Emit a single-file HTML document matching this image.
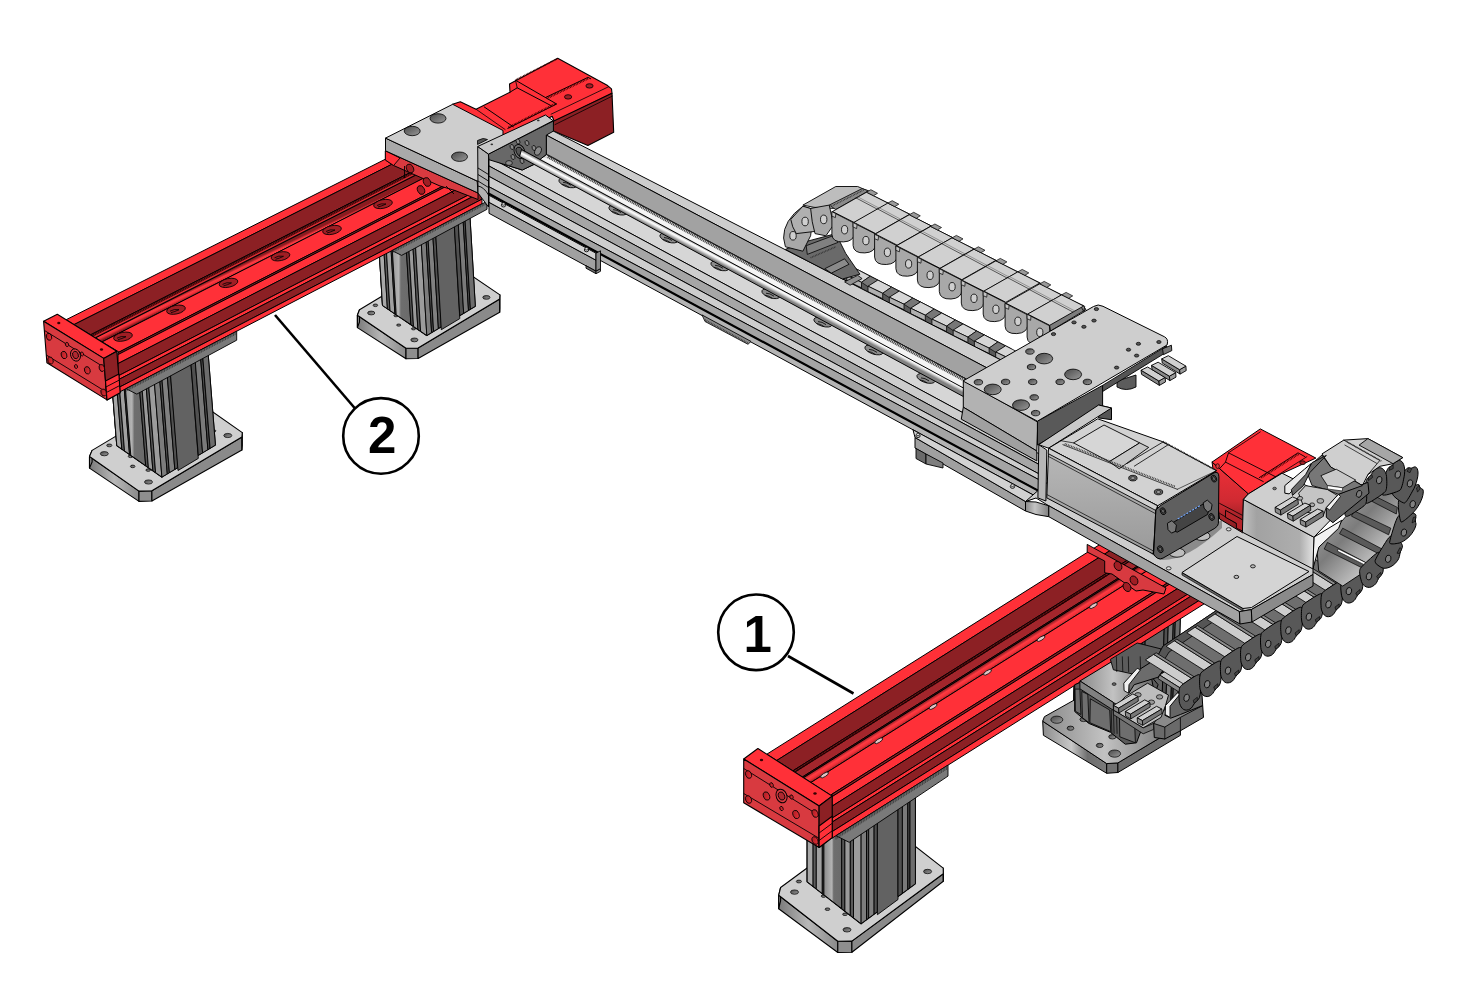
<!DOCTYPE html>
<html lang="en"><head><meta charset="utf-8"><title>Gantry assembly</title>
<style>
html,body{margin:0;padding:0;background:#fff;}
body{width:1459px;height:1007px;overflow:hidden;font-family:"Liberation Sans",sans-serif;}
svg{display:block;}
text{font-family:"Liberation Sans",sans-serif;font-weight:bold;}
</style></head><body>
<svg width="1459" height="1007" viewBox="0 0 1459 1007">
<rect width="1459" height="1007" fill="#fff"/>
<defs>
<linearGradient id="hole" x1="0" y1="0" x2="1" y2="1"><stop offset="0" stop-color="#4a4a4a"/><stop offset="1" stop-color="#9a9a9a"/></linearGradient>
<linearGradient id="rhole" x1="0" y1="0" x2="1" y2="1"><stop offset="0" stop-color="#a01c22"/><stop offset="1" stop-color="#f03038"/></linearGradient>
<linearGradient id="post" x1="0" y1="0" x2="1" y2="0"><stop offset="0" stop-color="#8a8a8a"/><stop offset="0.45" stop-color="#b4b4b4"/><stop offset="0.55" stop-color="#6e6e6e"/><stop offset="1" stop-color="#6a6a6a"/></linearGradient>
<linearGradient id="basef" x1="0" y1="0" x2="1" y2="0"><stop offset="0" stop-color="#7a7a7a"/><stop offset="0.5" stop-color="#b8b8b8"/><stop offset="1" stop-color="#8a8a8a"/></linearGradient>
</defs>
<polygon points="139,491.1 89.5,456.5 89.5,468.1 139,501.4" fill="url(#basef)" stroke="#000" stroke-width="1.1" stroke-linejoin="round" />
<polygon points="89.5,456.5 92.1,450.4 92.1,462 89.5,468.1" fill="#888" stroke="#000" stroke-width="1.1" stroke-linejoin="round" />
<polygon points="151.9,490.7 139,491.1 139,501.4 151.9,501" fill="#8e8e8e" stroke="#000" stroke-width="1.1" stroke-linejoin="round" />
<polygon points="151.9,490.7 241.9,437 241.9,449.9 151.9,501" fill="#8a8a8a" stroke="#000" stroke-width="1.1" stroke-linejoin="round" />
<polygon points="241.9,437 242.3,432.6 242.3,445.5 241.9,449.9" fill="#777" stroke="#000" stroke-width="1.1" stroke-linejoin="round" />
<polygon points="151.9,490.7 241.9,437 242.3,432.6 190.4,396.3 180.8,397.4 92.1,450.4 89.5,456.5 139,491.1" fill="#cfcfcf" stroke="#000" stroke-width="1.1" stroke-linejoin="round" />
<ellipse cx="104.3" cy="453.7" rx="4" ry="2.1" fill="url(#hole)" stroke="#000" stroke-width="0.7" />
<ellipse cx="148.5" cy="482" rx="4" ry="2.1" fill="url(#hole)" stroke="#000" stroke-width="0.7" />
<ellipse cx="227.8" cy="435.5" rx="4" ry="2.1" fill="url(#hole)" stroke="#000" stroke-width="0.7" />
<ellipse cx="130.5" cy="456.3" rx="2.3" ry="1.3" fill="url(#hole)" stroke="#000" stroke-width="0.7" />
<ellipse cx="148.2" cy="470.1" rx="2.3" ry="1.3" fill="url(#hole)" stroke="#000" stroke-width="0.7" />
<ellipse cx="213.8" cy="430.9" rx="2.1" ry="1.1" fill="url(#hole)" stroke="#000" stroke-width="0.7" />
<ellipse cx="109.3" cy="445.4" rx="2.6" ry="1.4" fill="url(#hole)" stroke="#000" stroke-width="0.7" />
<ellipse cx="132.7" cy="466.4" rx="2.3" ry="1.3" fill="url(#hole)" stroke="#000" stroke-width="0.7" />
<polygon points="106.7,318.4 151.8,350 205.3,318.1 215.4,445.1 161.9,477.1 116.8,445.5" fill="#686868" stroke="#000" stroke-width="1.1" stroke-linejoin="round" />
<polygon points="106.7,318.4 151.8,350 161.9,477.1 116.8,445.5" fill="#8e8e8e" stroke="#000" stroke-width="1.1" stroke-linejoin="round" />
<polygon points="106.7,318.4 111.6,321.9 121.8,449 116.8,445.5" fill="#a8a8a8" stroke="#000" stroke-width="0.9" stroke-linejoin="round" />
<polygon points="111.6,321.9 114.3,323.8 124.5,450.9 121.8,449" fill="#5c5c5c" stroke="#000" stroke-width="0.9" stroke-linejoin="round" />
<polygon points="114.3,323.8 119.3,327.3 129.5,454.3 124.5,450.9" fill="#a0a0a0" stroke="#000" stroke-width="0.9" stroke-linejoin="round" />
<polygon points="119.3,327.3 120.6,328.2 130.8,455.3 129.5,454.3" fill="#555" stroke="#000" stroke-width="0.9" stroke-linejoin="round" />
<polygon points="120.6,328.2 135.5,338.6 145.7,465.7 130.8,455.3" fill="url(#post)" stroke="#000" stroke-width="0.9" stroke-linejoin="round" />
<polygon points="135.5,338.6 138.2,340.5 148.4,467.6 145.7,465.7" fill="#555" stroke="#000" stroke-width="0.9" stroke-linejoin="round" />
<polygon points="138.2,340.5 142.8,343.7 152.9,470.7 148.4,467.6" fill="#9a9a9a" stroke="#000" stroke-width="0.9" stroke-linejoin="round" />
<polygon points="142.8,343.7 145.5,345.6 155.6,472.6 152.9,470.7" fill="#5a5a5a" stroke="#000" stroke-width="0.9" stroke-linejoin="round" />
<polygon points="145.5,345.6 151.8,350 161.9,477.1 155.6,472.6" fill="#9c9c9c" stroke="#000" stroke-width="0.9" stroke-linejoin="round" />
<polygon points="151.8,350 157.1,346.8 167.3,473.9 161.9,477.1" fill="#7c7c7c" stroke="#000" stroke-width="0.9" stroke-linejoin="round" />
<polygon points="157.1,346.8 159.3,345.5 169.4,472.6 167.3,473.9" fill="#505050" stroke="#000" stroke-width="0.9" stroke-linejoin="round" />
<polygon points="159.3,345.5 164.6,342.3 174.8,469.4 169.4,472.6" fill="#808080" stroke="#000" stroke-width="0.9" stroke-linejoin="round" />
<polygon points="164.6,342.3 167.8,340.4 178,467.5 174.8,469.4" fill="#505050" stroke="#000" stroke-width="0.9" stroke-linejoin="round" />
<polygon points="167.8,340.4 188.1,328.3 198.3,458.4 178,470.5" fill="#626262" stroke="#000" stroke-width="0.9" stroke-linejoin="round" />
<polygon points="188.1,328.3 192.4,325.8 202.6,452.8 198.3,455.4" fill="#505050" stroke="#000" stroke-width="0.9" stroke-linejoin="round" />
<polygon points="192.4,325.8 197.8,322.6 207.9,449.6 202.6,452.8" fill="#7a7a7a" stroke="#000" stroke-width="0.9" stroke-linejoin="round" />
<polygon points="197.8,322.6 199.9,321.3 210.1,448.3 207.9,449.6" fill="#4c4c4c" stroke="#000" stroke-width="0.9" stroke-linejoin="round" />
<polygon points="199.9,321.3 205.3,318.1 215.4,445.1 210.1,448.3" fill="#6c6c6c" stroke="#000" stroke-width="0.9" stroke-linejoin="round" />
<polygon points="406,348.3 357.4,315.3 357.4,327.6 406,358.7" fill="url(#basef)" stroke="#000" stroke-width="1.1" stroke-linejoin="round" />
<polygon points="357.4,315.3 359.5,309.7 359.5,322 357.4,327.6" fill="#888" stroke="#000" stroke-width="1.1" stroke-linejoin="round" />
<polygon points="418.1,348 406,348.3 406,358.7 418.1,358.5" fill="#8e8e8e" stroke="#000" stroke-width="1.1" stroke-linejoin="round" />
<polygon points="418.1,348 499.7,299 499.7,312.2 418.1,358.5" fill="#8a8a8a" stroke="#000" stroke-width="1.1" stroke-linejoin="round" />
<polygon points="499.7,299 499.9,294.9 499.9,308.1 499.7,312.2" fill="#777" stroke="#000" stroke-width="1.1" stroke-linejoin="round" />
<polygon points="418.1,348 499.7,299 499.9,294.9 448.9,260.3 440,261.3 359.5,309.7 357.4,315.3 406,348.3" fill="#cfcfcf" stroke="#000" stroke-width="1.1" stroke-linejoin="round" />
<ellipse cx="371.2" cy="313" rx="3.6" ry="1.9" fill="url(#hole)" stroke="#000" stroke-width="0.7" />
<ellipse cx="414.4" cy="339.9" rx="3.6" ry="1.9" fill="url(#hole)" stroke="#000" stroke-width="0.7" />
<ellipse cx="486.4" cy="297.4" rx="3.6" ry="1.9" fill="url(#hole)" stroke="#000" stroke-width="0.7" />
<ellipse cx="396" cy="315.7" rx="2.1" ry="1.1" fill="url(#hole)" stroke="#000" stroke-width="0.7" />
<ellipse cx="413.5" cy="328.8" rx="2.1" ry="1.1" fill="url(#hole)" stroke="#000" stroke-width="0.7" />
<ellipse cx="472.9" cy="293" rx="1.9" ry="1" fill="url(#hole)" stroke="#000" stroke-width="0.7" />
<ellipse cx="375.4" cy="305.3" rx="2.3" ry="1.3" fill="url(#hole)" stroke="#000" stroke-width="0.7" />
<ellipse cx="398.7" cy="325.1" rx="2.1" ry="1.1" fill="url(#hole)" stroke="#000" stroke-width="0.7" />
<polygon points="375,180 419.3,210 467.8,180.8 475.3,306.3 426.8,335.5 382.5,305.4" fill="#686868" stroke="#000" stroke-width="1.1" stroke-linejoin="round" />
<polygon points="375,180 419.3,210 426.8,335.5 382.5,305.4" fill="#8e8e8e" stroke="#000" stroke-width="1.1" stroke-linejoin="round" />
<polygon points="375,180 379.9,183.3 387.4,308.7 382.5,305.4" fill="#a8a8a8" stroke="#000" stroke-width="0.9" stroke-linejoin="round" />
<polygon points="379.9,183.3 382.5,185.1 390,310.5 387.4,308.7" fill="#5c5c5c" stroke="#000" stroke-width="0.9" stroke-linejoin="round" />
<polygon points="382.5,185.1 387.4,188.4 394.9,313.8 390,310.5" fill="#a0a0a0" stroke="#000" stroke-width="0.9" stroke-linejoin="round" />
<polygon points="387.4,188.4 388.7,189.3 396.2,314.7 394.9,313.8" fill="#555" stroke="#000" stroke-width="0.9" stroke-linejoin="round" />
<polygon points="388.7,189.3 403.3,199.2 410.9,324.6 396.2,314.7" fill="url(#post)" stroke="#000" stroke-width="0.9" stroke-linejoin="round" />
<polygon points="403.3,199.2 406,201 413.5,326.4 410.9,324.6" fill="#555" stroke="#000" stroke-width="0.9" stroke-linejoin="round" />
<polygon points="406,201 410.4,204 417.9,329.4 413.5,326.4" fill="#9a9a9a" stroke="#000" stroke-width="0.9" stroke-linejoin="round" />
<polygon points="410.4,204 413.1,205.8 420.6,331.2 417.9,329.4" fill="#5a5a5a" stroke="#000" stroke-width="0.9" stroke-linejoin="round" />
<polygon points="413.1,205.8 419.3,210 426.8,335.5 420.6,331.2" fill="#9c9c9c" stroke="#000" stroke-width="0.9" stroke-linejoin="round" />
<polygon points="419.3,210 424.1,207.1 431.6,332.5 426.8,335.5" fill="#7c7c7c" stroke="#000" stroke-width="0.9" stroke-linejoin="round" />
<polygon points="424.1,207.1 426.1,205.9 433.6,331.4 431.6,332.5" fill="#505050" stroke="#000" stroke-width="0.9" stroke-linejoin="round" />
<polygon points="426.1,205.9 430.9,203 438.4,328.5 433.6,331.4" fill="#808080" stroke="#000" stroke-width="0.9" stroke-linejoin="round" />
<polygon points="430.9,203 433.8,201.3 441.3,326.7 438.4,328.5" fill="#505050" stroke="#000" stroke-width="0.9" stroke-linejoin="round" />
<polygon points="433.8,201.3 452.2,190.2 459.8,318.6 441.3,329.7" fill="#626262" stroke="#000" stroke-width="0.9" stroke-linejoin="round" />
<polygon points="452.2,190.2 456.1,187.8 463.7,313.3 459.8,315.6" fill="#505050" stroke="#000" stroke-width="0.9" stroke-linejoin="round" />
<polygon points="456.1,187.8 461,184.9 468.5,310.4 463.7,313.3" fill="#7a7a7a" stroke="#000" stroke-width="0.9" stroke-linejoin="round" />
<polygon points="461,184.9 462.9,183.8 470.4,309.2 468.5,310.4" fill="#4c4c4c" stroke="#000" stroke-width="0.9" stroke-linejoin="round" />
<polygon points="462.9,183.8 467.8,180.8 475.3,306.3 470.4,309.2" fill="#6c6c6c" stroke="#000" stroke-width="0.9" stroke-linejoin="round" />
<linearGradient id="rod2" gradientUnits="userSpaceOnUse" x1="200" y1="285.2" x2="203" y2="291.4"><stop offset="0" stop-color="#8a1c20"/><stop offset="0.35" stop-color="#ff3a42"/><stop offset="0.6" stop-color="#f03038"/><stop offset="1" stop-color="#7e181c"/></linearGradient>
<polygon points="66.2,319.7 482,110.6 482,118.8 74,324.6" fill="#ff3038" stroke="#000" stroke-width="1" stroke-linejoin="round" />
<polygon points="74,324.6 482,118.8 482,136.2 90.6,334.8" fill="#8c2024" stroke="#000" stroke-width="1" stroke-linejoin="round" />
<polygon points="90.6,334.8 482,136.2 482,141.5 95.6,337.9" fill="#7a1a1e" stroke="#000" stroke-width="1" stroke-linejoin="round" />
<polygon points="95.6,337.9 482,141.5 482,148.4 102.1,341.9" fill="url(#rod2)" stroke="#000" stroke-width="1" stroke-linejoin="round" />
<polygon points="102.1,341.9 482,148.4 482,166.1 119,352.1" fill="#ff3038" stroke="#000" stroke-width="1" stroke-linejoin="round" />
<polygon points="118,352.7 482,166.1 482,168 118,354.6" fill="#8c2024" stroke="#000" stroke-width="1" stroke-linejoin="round" />
<polygon points="118,354.6 482,168 482,176.4 118,363.6" fill="#ff3038" stroke="#000" stroke-width="1" stroke-linejoin="round" />
<polygon points="118,363.6 482,176.4 482,188 118,376" fill="#8c2024" stroke="#000" stroke-width="1" stroke-linejoin="round" />
<polygon points="118,376 482,188 482,191.8 118,379.9" fill="#ff3038" stroke="#000" stroke-width="1" stroke-linejoin="round" />
<polygon points="118,379.9 482,191.8 482,199.2 118,387.9" fill="#8c2024" stroke="#000" stroke-width="1" stroke-linejoin="round" />
<polygon points="118,387.9 482,199.2 482,203.9 118,392.8" fill="#ff3038" stroke="#000" stroke-width="1" stroke-linejoin="round" />
<line x1="90.1" y1="336.5" x2="420" y2="169.1" stroke="#300" stroke-width="2.4" stroke-dasharray="0.9 0.9"/>
<line x1="92.1" y1="337.9" x2="420" y2="171.4" stroke="#ff3038" stroke-width="0.9" />
<ellipse cx="123" cy="336.7" rx="9.5" ry="4.3" fill="#a01e24" stroke="#000" stroke-width="0.8" transform="rotate(-12 123 336.7)" />
<path d="M117 338.2 q4 -2.5 9 -1.5 M118 339.7 q4 -1 8 -3" fill="none" stroke="#000" stroke-width="0.8" stroke-linejoin="round" />
<ellipse cx="176" cy="309.7" rx="9.5" ry="4.3" fill="#a01e24" stroke="#000" stroke-width="0.8" transform="rotate(-12 176 309.7)" />
<path d="M170 311.2 q4 -2.5 9 -1.5 M171 312.7 q4 -1 8 -3" fill="none" stroke="#000" stroke-width="0.8" stroke-linejoin="round" />
<ellipse cx="228.5" cy="282.9" rx="9.5" ry="4.3" fill="#a01e24" stroke="#000" stroke-width="0.8" transform="rotate(-12 228.5 282.9)" />
<path d="M222.5 284.4 q4 -2.5 9 -1.5 M223.5 285.9 q4 -1 8 -3" fill="none" stroke="#000" stroke-width="0.8" stroke-linejoin="round" />
<ellipse cx="280.5" cy="256.3" rx="9.5" ry="4.3" fill="#a01e24" stroke="#000" stroke-width="0.8" transform="rotate(-12 280.5 256.3)" />
<path d="M274.5 257.8 q4 -2.5 9 -1.5 M275.5 259.3 q4 -1 8 -3" fill="none" stroke="#000" stroke-width="0.8" stroke-linejoin="round" />
<ellipse cx="332" cy="230" rx="9.5" ry="4.3" fill="#a01e24" stroke="#000" stroke-width="0.8" transform="rotate(-12 332 230)" />
<path d="M326 231.5 q4 -2.5 9 -1.5 M327 233 q4 -1 8 -3" fill="none" stroke="#000" stroke-width="0.8" stroke-linejoin="round" />
<ellipse cx="383" cy="204" rx="9.5" ry="4.3" fill="#a01e24" stroke="#000" stroke-width="0.8" transform="rotate(-12 383 204)" />
<path d="M377 205.5 q4 -2.5 9 -1.5 M378 207 q4 -1 8 -3" fill="none" stroke="#000" stroke-width="0.8" stroke-linejoin="round" />
<polygon points="43.6,321.3 57.3,314.2 116.8,351.3 103.7,358.4" fill="#ff3038" stroke="#000" stroke-width="1.1" stroke-linejoin="round" />
<polygon points="43.6,321.3 103.7,358.4 107,399.9 46.9,362.8" fill="#d83a40" stroke="#000" stroke-width="1.1" stroke-linejoin="round" />
<polygon points="103.7,358.4 116.8,351.3 120.1,392.8 107,399.9" fill="#8c2024" stroke="#000" stroke-width="1.1" stroke-linejoin="round" />
<polygon points="105.5,381 118.9,374 120.1,392.8 107,399.9" fill="#ff3038" stroke="#000" stroke-width="1.1" stroke-linejoin="round" />
<line x1="105.9" y1="387" x2="119.4" y2="380" stroke="#000" stroke-width="0.9" />
<line x1="106.4" y1="392.5" x2="119.8" y2="385.5" stroke="#000" stroke-width="0.9" />
<line x1="44.5" y1="330.5" x2="104.5" y2="367.5" stroke="#000" stroke-width="0.9" />
<line x1="46.3" y1="355" x2="106.3" y2="392" stroke="#000" stroke-width="0.9" />
<ellipse cx="49" cy="336.8" rx="2.6" ry="3.6" fill="url(#rhole)" stroke="#000" stroke-width="0.8" transform="rotate(-20 49 336.8)" />
<ellipse cx="50.5" cy="360.5" rx="2.6" ry="3.6" fill="url(#rhole)" stroke="#000" stroke-width="0.8" transform="rotate(-20 50.5 360.5)" />
<ellipse cx="101.8" cy="368" rx="2.6" ry="3.6" fill="url(#rhole)" stroke="#000" stroke-width="0.8" transform="rotate(-20 101.8 368)" />
<ellipse cx="103.6" cy="392.5" rx="2.6" ry="3.6" fill="url(#rhole)" stroke="#000" stroke-width="0.8" transform="rotate(-20 103.6 392.5)" />
<ellipse cx="64" cy="355" rx="2.8" ry="3.8" fill="url(#rhole)" stroke="#000" stroke-width="0.8" transform="rotate(-20 64 355)" />
<ellipse cx="87.3" cy="370.3" rx="2.8" ry="3.8" fill="url(#rhole)" stroke="#000" stroke-width="0.8" transform="rotate(-20 87.3 370.3)" />
<ellipse cx="67" cy="344.5" rx="1.6" ry="2.2" fill="url(#rhole)" stroke="#000" stroke-width="0.8" transform="rotate(-20 67 344.5)" />
<ellipse cx="82" cy="354" rx="1.5" ry="2" fill="url(#rhole)" stroke="#000" stroke-width="0.8" transform="rotate(-20 82 354)" />
<ellipse cx="76" cy="366.5" rx="1.5" ry="2" fill="url(#rhole)" stroke="#000" stroke-width="0.8" transform="rotate(-20 76 366.5)" />
<ellipse cx="75.5" cy="355" rx="4.8" ry="6.3" fill="#d83a40" stroke="#000" stroke-width="0.9" transform="rotate(-20 75.5 355)" />
<ellipse cx="75.5" cy="355" rx="2.8" ry="3.8" fill="#b02830" stroke="#000" stroke-width="0.8" transform="rotate(-20 75.5 355)" />
<ellipse cx="58.8" cy="323" rx="1.6" ry="1.2" fill="#300" />
<ellipse cx="101.5" cy="349.5" rx="1.6" ry="1.2" fill="#300" />
<polygon points="126,388.7 236.7,331.2 236.7,340.2 136.8,394.1" fill="#7a7a7a" stroke="#000" stroke-width="0.9" stroke-linejoin="round" />
<path d="M126 388.7v3.1M127.6 387.8v3.1M129.2 387v3.1M130.8 386.2v3.1M132.4 385.3v3.1M134 384.5v3.1M135.6 383.7v3.1M137.2 382.8v3.1M138.8 382v3.1M140.4 381.2v3.1M142 380.3v3.1M143.6 379.5v3.1M145.3 378.7v3.1M146.9 377.8v3.1M148.5 377v3.1M150.1 376.2v3.1M151.7 375.3v3.1M153.3 374.5v3.1M154.9 373.7v3.1M156.5 372.8v3.1M158.1 372v3.1M159.7 371.2v3.1M161.3 370.3v3.1M162.9 369.5v3.1M164.5 368.7v3.1M166.1 367.8v3.1M167.7 367v3.1M169.3 366.2v3.1M170.9 365.3v3.1M172.5 364.5v3.1M174.1 363.7v3.1M175.7 362.8v3.1M177.3 362v3.1M178.9 361.2v3.1M180.5 360.4v3.1M182.2 359.5v3.1M183.8 358.7v3.1M185.4 357.9v3.1M187 357v3.1M188.6 356.2v3.1M190.2 355.4v3.1M191.8 354.5v3.1M193.4 353.7v3.1M195 352.9v3.1M196.6 352v3.1M198.2 351.2v3.1M199.8 350.4v3.1M201.4 349.5v3.1M203 348.7v3.1M204.6 347.9v3.1M206.2 347v3.1M207.8 346.2v3.1M209.4 345.4v3.1M211 344.5v3.1M212.6 343.7v3.1M214.2 342.9v3.1M215.8 342v3.1M217.4 341.2v3.1M219.1 340.4v3.1M220.7 339.5v3.1M222.3 338.7v3.1M223.9 337.9v3.1M225.5 337v3.1M227.1 336.2v3.1M228.7 335.4v3.1M230.3 334.5v3.1M231.9 333.7v3.1M233.5 332.9v3.1M235.1 332v3.1" fill="none" stroke="#222" stroke-width="0.6" stroke-linejoin="round" />
<polygon points="392,250.6 487,201.3 487,209.3 401.6,255.4" fill="#7a7a7a" stroke="#000" stroke-width="0.9" stroke-linejoin="round" />
<path d="M392 250.6v2.8M393.6 249.8v2.8M395.2 248.9v2.8M396.8 248.1v2.8M398.4 247.3v2.8M400.1 246.4v2.8M401.7 245.6v2.8M403.3 244.8v2.8M404.9 243.9v2.8M406.5 243.1v2.8M408.1 242.3v2.8M409.7 241.4v2.8M411.3 240.6v2.8M412.9 239.7v2.8M414.5 238.9v2.8M416.2 238.1v2.8M417.8 237.2v2.8M419.4 236.4v2.8M421 235.6v2.8M422.6 234.7v2.8M424.2 233.9v2.8M425.8 233.1v2.8M427.4 232.2v2.8M429 231.4v2.8M430.6 230.6v2.8M432.3 229.7v2.8M433.9 228.9v2.8M435.5 228v2.8M437.1 227.2v2.8M438.7 226.4v2.8M440.3 225.5v2.8M441.9 224.7v2.8M443.5 223.9v2.8M445.1 223v2.8M446.7 222.2v2.8M448.4 221.4v2.8M450 220.5v2.8M451.6 219.7v2.8M453.2 218.9v2.8M454.8 218v2.8M456.4 217.2v2.8M458 216.3v2.8M459.6 215.5v2.8M461.2 214.7v2.8M462.8 213.8v2.8M464.5 213v2.8M466.1 212.2v2.8M467.7 211.3v2.8M469.3 210.5v2.8M470.9 209.7v2.8M472.5 208.8v2.8M474.1 208v2.8M475.7 207.2v2.8M477.3 206.3v2.8M478.9 205.5v2.8M480.6 204.6v2.8M482.2 203.8v2.8M483.8 203v2.8M485.4 202.1v2.8" fill="none" stroke="#222" stroke-width="0.6" stroke-linejoin="round" />
<polygon points="452.5,104.3 460.3,101.8 476,109.2 510,92.2 509.5,84 557.7,58.2 607.6,85.6 611.5,88.9 612,93.3 554.4,121.8 552.2,116.3 491.9,146.5 452.5,126.8" fill="#ff3038" stroke="#000" stroke-width="1.1" stroke-linejoin="round" />
<polygon points="553.3,121.3 612,93.3 613.7,132.2 587.9,145.4 551.1,130.1" fill="#8c2024" stroke="#000" stroke-width="1.1" stroke-linejoin="round" />
<polyline points="551.1,114.2 608.7,86.7" fill="none" stroke="#000" stroke-width="0.8" stroke-linejoin="round" stroke-linecap="round" />
<polyline points="555,124.6 612.3,96.1" fill="none" stroke="#000" stroke-width="0.8" stroke-linejoin="round" stroke-linecap="round" />
<polyline points="515.5,80.2 556.6,104" fill="none" stroke="#000" stroke-width="1" stroke-linejoin="round" stroke-linecap="round" />
<polyline points="510,92.2 517.2,87.8 550.6,105.4" fill="none" stroke="#000" stroke-width="1" stroke-linejoin="round" stroke-linecap="round" />
<polyline points="517.2,87.8 515.5,80.2" fill="none" stroke="#000" stroke-width="0.8" stroke-linejoin="round" stroke-linecap="round" />
<polyline points="545.7,97.4 587.9,77.4 590.6,78.7" fill="none" stroke="#000" stroke-width="1" stroke-linejoin="round" stroke-linecap="round" />
<line x1="546.8" y1="98.3" x2="588.4" y2="78.3" stroke="#400" stroke-width="2.2" stroke-dasharray="0.8 0.8"/>
<polyline points="507.8,128.4 556.1,104.3" fill="none" stroke="#000" stroke-width="1" stroke-linejoin="round" stroke-linecap="round" />
<line x1="508.4" y1="127.6" x2="555.5" y2="103.7" stroke="#400" stroke-width="2.2" stroke-dasharray="0.8 0.8"/>
<polyline points="484.3,107 513.3,126.8" fill="none" stroke="#000" stroke-width="1" stroke-linejoin="round" stroke-linecap="round" />
<polyline points="476,109.2 505.1,129.5" fill="none" stroke="#000" stroke-width="0.8" stroke-linejoin="round" stroke-linecap="round" />
<ellipse cx="568.1" cy="96.9" rx="3.6" ry="2.2" fill="#a01e24" stroke="#000" stroke-width="0.8" />
<ellipse cx="589.5" cy="85.9" rx="3.6" ry="2.2" fill="#a01e24" stroke="#000" stroke-width="0.8" />
<line x1="516.1" y1="79.6" x2="557.7" y2="58.6" stroke="#400" stroke-width="1.6" stroke-dasharray="0.8 0.8"/>
<polygon points="385.4,150.8 478,193 478,199.5 455,190.5 440,186 393.6,165.5 385.4,160" fill="#d83a40" stroke="#000" stroke-width="1" stroke-linejoin="round" />
<polygon points="385.4,150.8 385.4,160 393.6,165.5 400,158" fill="#ff3038" stroke="#000" stroke-width="0.9" stroke-linejoin="round" />
<ellipse cx="410" cy="168.5" rx="3.4" ry="4.6" fill="#a01e24" stroke="#000" stroke-width="0.8" transform="rotate(-25 410 168.5)" />
<ellipse cx="427" cy="182" rx="3.4" ry="4.6" fill="#a01e24" stroke="#000" stroke-width="0.8" transform="rotate(-25 427 182)" />
<ellipse cx="421" cy="190" rx="3.4" ry="4.6" fill="#a01e24" stroke="#000" stroke-width="0.8" transform="rotate(-25 421 190)" />
<path d="M404.5 166 l0 12 M446 186 q4 4 8 8" fill="none" stroke="#000" stroke-width="0.9" stroke-linejoin="round" />
<polygon points="385.5,138.1 477.2,181.1 478,193 385.5,150.8" fill="#a9a9a9" stroke="#000" stroke-width="1" stroke-linejoin="round" />
<polygon points="385.5,138.1 452.7,104.3 503,130.5 503,170 477.2,181.1" fill="#cecece" stroke="#000" stroke-width="1" stroke-linejoin="round" />
<ellipse cx="412.2" cy="131" rx="8" ry="4.7" fill="url(#hole)" stroke="#000" stroke-width="0.8" />
<ellipse cx="438" cy="118.4" rx="8" ry="4.7" fill="url(#hole)" stroke="#000" stroke-width="0.8" />
<ellipse cx="459.5" cy="156.7" rx="8" ry="4.7" fill="url(#hole)" stroke="#000" stroke-width="0.8" />
<path d="M477.5 140.5 q6 -3.5 10 -1 l-10 5z" fill="#555" stroke="#000" stroke-width="0.8" stroke-linejoin="round" />
<polygon points="842.4,272.7 856.6,269.1 1011.3,348.8 1011.3,365.3 842.4,279" fill="#5a5a5a" stroke="#000" stroke-width="0.9" stroke-linejoin="round" />
<polygon points="856.6,269.1 870.2,276.2 861.5,282.3 846.8,275.3" fill="#d6d6d6" stroke="#000" stroke-width="0.8" stroke-linejoin="round" />
<polygon points="846.8,275.3 861.5,282.3 861.5,287.8 846.8,280.8" fill="#b0b0b0" stroke="#000" stroke-width="0.8" stroke-linejoin="round" />
<polygon points="870.2,276.2 877.9,280.1 868,286.7 861.5,282.3" fill="#777" stroke="#000" stroke-width="0.7" stroke-linejoin="round" />
<polygon points="877.9,280.1 891.5,287.1 882.7,293.3 868,286.2" fill="#d6d6d6" stroke="#000" stroke-width="0.8" stroke-linejoin="round" />
<polygon points="868,286.2 882.7,293.3 882.7,298.7 868,291.7" fill="#b0b0b0" stroke="#000" stroke-width="0.8" stroke-linejoin="round" />
<polygon points="891.5,287.1 899.2,291.1 889.3,297.6 882.7,293.3" fill="#777" stroke="#000" stroke-width="0.7" stroke-linejoin="round" />
<polygon points="899.2,291.1 912.8,298.1 904,304.2 889.3,297.2" fill="#d6d6d6" stroke="#000" stroke-width="0.8" stroke-linejoin="round" />
<polygon points="889.3,297.2 904,304.2 904,309.7 889.3,302.7" fill="#b0b0b0" stroke="#000" stroke-width="0.8" stroke-linejoin="round" />
<polygon points="912.8,298.1 920.5,302 910.6,308.6 904,304.2" fill="#777" stroke="#000" stroke-width="0.7" stroke-linejoin="round" />
<polygon points="920.5,302 934.1,309 925.3,315.2 910.6,308.2" fill="#d6d6d6" stroke="#000" stroke-width="0.8" stroke-linejoin="round" />
<polygon points="910.6,308.2 925.3,315.2 925.3,320.7 910.6,313.6" fill="#b0b0b0" stroke="#000" stroke-width="0.8" stroke-linejoin="round" />
<polygon points="934.1,309 941.7,313 931.9,319.6 925.3,315.2" fill="#777" stroke="#000" stroke-width="0.7" stroke-linejoin="round" />
<polygon points="941.7,313 955.3,320 946.6,326.1 931.9,319.1" fill="#d6d6d6" stroke="#000" stroke-width="0.8" stroke-linejoin="round" />
<polygon points="931.9,319.1 946.6,326.1 946.6,331.6 931.9,324.6" fill="#b0b0b0" stroke="#000" stroke-width="0.8" stroke-linejoin="round" />
<polygon points="955.3,320 963,323.9 953.2,330.5 946.6,326.1" fill="#777" stroke="#000" stroke-width="0.7" stroke-linejoin="round" />
<polygon points="963,323.9 976.6,331 967.9,337.1 953.2,330.1" fill="#d6d6d6" stroke="#000" stroke-width="0.8" stroke-linejoin="round" />
<polygon points="953.2,330.1 967.9,337.1 967.9,342.6 953.2,335.6" fill="#b0b0b0" stroke="#000" stroke-width="0.8" stroke-linejoin="round" />
<polygon points="976.6,331 984.3,334.9 974.4,341.5 967.9,337.1" fill="#777" stroke="#000" stroke-width="0.7" stroke-linejoin="round" />
<polygon points="984.3,334.9 997.9,341.9 989.1,348.1 974.4,341" fill="#d6d6d6" stroke="#000" stroke-width="0.8" stroke-linejoin="round" />
<polygon points="974.4,341 989.1,348.1 989.1,353.5 974.4,346.5" fill="#b0b0b0" stroke="#000" stroke-width="0.8" stroke-linejoin="round" />
<polygon points="997.9,341.9 1005.6,345.9 995.7,352.4 989.1,348.1" fill="#777" stroke="#000" stroke-width="0.7" stroke-linejoin="round" />
<polygon points="1005.6,345.8 1019.2,352.9 1010.4,359 995.7,352" fill="#d6d6d6" stroke="#000" stroke-width="0.8" stroke-linejoin="round" />
<polygon points="995.7,352 1010.4,359 1010.4,364.5 995.7,357.5" fill="#b0b0b0" stroke="#000" stroke-width="0.8" stroke-linejoin="round" />
<polygon points="1019.2,352.9 1026.9,356.8 1017,363.4 1010.4,359" fill="#777" stroke="#000" stroke-width="0.7" stroke-linejoin="round" />
<polygon points="551.8,130.3 1000,359.5 1000,374.8 546.3,135.1" fill="#cdcdcd" stroke="#000" stroke-width="1" stroke-linejoin="round" />
<polygon points="546.3,135.1 992,370.6 992,392.9 546.3,154.5" fill="#a2a2a2" stroke="#000" stroke-width="1" stroke-linejoin="round" />
<polygon points="546.3,154.5 965,378.4 965,413.9 500,162.9 522,170 534,164.5" fill="#d6d6d6" stroke="#000" stroke-width="1" stroke-linejoin="round" />
<polygon points="548,158.6 965,382.4 965,388.9 535,155.5" fill="#f4f4f4" stroke-linejoin="round" />
<line x1="548" y1="154.8" x2="965" y2="378.4" stroke="#222" stroke-width="0.8" />
<line x1="548" y1="156.7" x2="965" y2="380.4" stroke="#333" stroke-width="3.2" stroke-dasharray="0.9 0.9"/>
<ellipse cx="568" cy="182.8" rx="9.5" ry="4.2" fill="#8a8a8a" stroke="#000" stroke-width="0.8" transform="rotate(18 568 182.8)" />
<path d="M563 182.3 q4 0 8 3 M562 184.3 q4 0.5 7 3" fill="none" stroke="#000" stroke-width="0.8" stroke-linejoin="round" />
<ellipse cx="618" cy="210.1" rx="9.5" ry="4.2" fill="#8a8a8a" stroke="#000" stroke-width="0.8" transform="rotate(18 618 210.1)" />
<path d="M613 209.6 q4 0 8 3 M612 211.6 q4 0.5 7 3" fill="none" stroke="#000" stroke-width="0.8" stroke-linejoin="round" />
<ellipse cx="669" cy="238" rx="9.5" ry="4.2" fill="#8a8a8a" stroke="#000" stroke-width="0.8" transform="rotate(18 669 238)" />
<path d="M664 237.5 q4 0 8 3 M663 239.5 q4 0.5 7 3" fill="none" stroke="#000" stroke-width="0.8" stroke-linejoin="round" />
<ellipse cx="720" cy="265.8" rx="9.5" ry="4.2" fill="#8a8a8a" stroke="#000" stroke-width="0.8" transform="rotate(18 720 265.8)" />
<path d="M715 265.3 q4 0 8 3 M714 267.3 q4 0.5 7 3" fill="none" stroke="#000" stroke-width="0.8" stroke-linejoin="round" />
<ellipse cx="771" cy="293.7" rx="9.5" ry="4.2" fill="#8a8a8a" stroke="#000" stroke-width="0.8" transform="rotate(18 771 293.7)" />
<path d="M766 293.2 q4 0 8 3 M765 295.2 q4 0.5 7 3" fill="none" stroke="#000" stroke-width="0.8" stroke-linejoin="round" />
<ellipse cx="823" cy="322.1" rx="9.5" ry="4.2" fill="#8a8a8a" stroke="#000" stroke-width="0.8" transform="rotate(18 823 322.1)" />
<path d="M818 321.6 q4 0 8 3 M817 323.6 q4 0.5 7 3" fill="none" stroke="#000" stroke-width="0.8" stroke-linejoin="round" />
<ellipse cx="874" cy="349.9" rx="9.5" ry="4.2" fill="#8a8a8a" stroke="#000" stroke-width="0.8" transform="rotate(18 874 349.9)" />
<path d="M869 349.4 q4 0 8 3 M868 351.4 q4 0.5 7 3" fill="none" stroke="#000" stroke-width="0.8" stroke-linejoin="round" />
<ellipse cx="926" cy="378.4" rx="9.5" ry="4.2" fill="#8a8a8a" stroke="#000" stroke-width="0.8" transform="rotate(18 926 378.4)" />
<path d="M921 377.9 q4 0 8 3 M920 379.9 q4 0.5 7 3" fill="none" stroke="#000" stroke-width="0.8" stroke-linejoin="round" />
<polygon points="489,157 1040,454.3 1040,465 489,166" fill="#cdcdcd" stroke="#000" stroke-width="1" stroke-linejoin="round" />
<polygon points="489,166 1040,465 1040,474.5 489,176.4" fill="#a6a6a6" stroke="#000" stroke-width="1" stroke-linejoin="round" />
<polygon points="489,176.4 1040,474.5 1040,480.3 489,186.8" fill="#cdcdcd" stroke="#000" stroke-width="1" stroke-linejoin="round" />
<polygon points="489,186.8 1040,480.3 1040,491.6 489,193.8" fill="#a4a4a4" stroke="#000" stroke-width="1" stroke-linejoin="round" />
<polygon points="489,193.8 1040,491.6 1040,498.6 489,200.1" fill="#b4b4b4" stroke="#000" stroke-width="1" stroke-linejoin="round" />
<line x1="489" y1="193.8" x2="1040" y2="491.6" stroke="#000" stroke-width="2.2" />
<polygon points="489,202.3 596,260.2 596,271.2 489,213.3" fill="#a0a0a0" stroke="#000" stroke-width="1" stroke-linejoin="round" />
<polygon points="489,195.3 596,253.2 596,260.2 489,202.3" fill="#d2d2d2" stroke="#000" stroke-width="1" stroke-linejoin="round" />
<polygon points="596,253.2 600.5,250.8 600.5,268.8 596,271.2" fill="#8a8a8a" stroke="#000" stroke-width="0.9" stroke-linejoin="round" />
<polygon points="586,265.7 596,271.2 596,273.7 586,268.2" fill="#6e6e6e" stroke="#000" stroke-width="0.9" stroke-linejoin="round" />
<polygon points="596,271.2 600.5,268.8 600.5,271.3 596,273.7" fill="#8e8e8e" stroke="#000" stroke-width="0.9" stroke-linejoin="round" />
<ellipse cx="503.5" cy="205.2" rx="2.2" ry="1.8" fill="#bbb" stroke="#000" stroke-width="0.8" />
<ellipse cx="503.5" cy="203.9" rx="1.6" ry="1.2" fill="#ddd" stroke="#000" stroke-width="0.6" />
<ellipse cx="586.5" cy="250" rx="2.2" ry="1.8" fill="#bbb" stroke="#000" stroke-width="0.8" />
<ellipse cx="586.5" cy="248.7" rx="1.6" ry="1.2" fill="#ddd" stroke="#000" stroke-width="0.6" />
<polygon points="702,314.9 751,341.4 748,344.3 705,321.5" fill="#8a8a8a" stroke="#000" stroke-width="0.8" stroke-linejoin="round" />
<line x1="705" y1="320" x2="748" y2="343.3" stroke="#333" stroke-width="1.6" stroke-dasharray="0.8 0.9"/>
<polygon points="915,437.5 1025.5,501.5 1025.5,511 915,448" fill="#a0a0a0" stroke="#000" stroke-width="1" stroke-linejoin="round" />
<polygon points="913,429.8 1037,497 1025.5,501.5 915,437.5" fill="#d2d2d2" stroke="#000" stroke-width="1" stroke-linejoin="round" />
<polygon points="916,448.5 926,454 926,464 916,458.5" fill="#6a6a6a" stroke="#000" stroke-width="0.9" stroke-linejoin="round" />
<polygon points="926,454 943,463 943,468 926,464" fill="#7e7e7e" stroke="#000" stroke-width="0.9" stroke-linejoin="round" />
<ellipse cx="918" cy="435.8" rx="2.2" ry="1.8" fill="#bbb" stroke="#000" stroke-width="0.8" />
<ellipse cx="918" cy="434.5" rx="1.6" ry="1.2" fill="#ddd" stroke="#000" stroke-width="0.6" />
<ellipse cx="1012.5" cy="486.6" rx="2.2" ry="1.8" fill="#bbb" stroke="#000" stroke-width="0.8" />
<ellipse cx="1012.5" cy="485.3" rx="1.6" ry="1.2" fill="#ddd" stroke="#000" stroke-width="0.6" />
<polygon points="477.7,146.5 488.5,154.1 488.5,207 478,193" fill="#b2b2b2" stroke="#000" stroke-width="1" stroke-linejoin="round" />
<path d="M478 168 l10.5 6.5 M478 174.5 l10.5 6.5 M478 181 l10.5 6.5 M478 186 q6 1 10.5 9" fill="none" stroke="#000" stroke-width="0.9" stroke-linejoin="round" />
<polygon points="488.3,154.2 553.4,121 553.4,131.1 546.3,135.1 546.3,154.5 533.6,164.5 522.4,170 489,159.7" fill="#686868" stroke="#000" stroke-width="1" stroke-linejoin="round" />
<polygon points="477.7,146.5 545.5,115 553.1,120.7 488.5,154.1" fill="#c9c9c9" stroke="#000" stroke-width="1" stroke-linejoin="round" />
<ellipse cx="491.8" cy="144.3" rx="1.3" ry="0.9" fill="#333" />
<ellipse cx="538.3" cy="120.4" rx="1.3" ry="0.9" fill="#333" />
<ellipse cx="519.5" cy="151.5" rx="5.2" ry="7.2" fill="#777" stroke="#000" stroke-width="0.9" transform="rotate(-22 519.5 151.5)" />
<ellipse cx="519.5" cy="151.5" rx="3.2" ry="4.6" fill="#555" stroke="#000" stroke-width="0.8" transform="rotate(-22 519.5 151.5)" />
<ellipse cx="513" cy="157" rx="1.8" ry="2.6" fill="#8a8a8a" stroke="#000" stroke-width="0.7" transform="rotate(-22 513 157)" />
<ellipse cx="512" cy="147" rx="1.8" ry="2.6" fill="#8a8a8a" stroke="#000" stroke-width="0.7" transform="rotate(-22 512 147)" />
<ellipse cx="518" cy="141.5" rx="1.8" ry="2.6" fill="#8a8a8a" stroke="#000" stroke-width="0.7" transform="rotate(-22 518 141.5)" />
<ellipse cx="527" cy="143" rx="1.8" ry="2.6" fill="#8a8a8a" stroke="#000" stroke-width="0.7" transform="rotate(-22 527 143)" />
<ellipse cx="534" cy="148" rx="1.8" ry="2.6" fill="#8a8a8a" stroke="#000" stroke-width="0.7" transform="rotate(-22 534 148)" />
<ellipse cx="522" cy="161" rx="1.8" ry="2.6" fill="#8a8a8a" stroke="#000" stroke-width="0.7" transform="rotate(-22 522 161)" />
<ellipse cx="538" cy="151" rx="3" ry="4.6" fill="#8a8a8a" stroke="#000" stroke-width="0.7" transform="rotate(25 538 151)" />
<ellipse cx="509" cy="163" rx="3.4" ry="2.4" fill="#8a8a8a" stroke="#000" stroke-width="0.7" />
<linearGradient id="rodg" gradientUnits="userSpaceOnUse" x1="700.2" y1="245" x2="696.9" y2="251.2"><stop offset="0" stop-color="#7e7e7e"/><stop offset="0.4" stop-color="#ffffff"/><stop offset="0.6" stop-color="#e6e6e6"/><stop offset="1" stop-color="#808080"/></linearGradient>
<polygon points="521.5,149.5 964,388.3 964,396.9 519.5,156.5" fill="url(#rodg)" stroke="#000" stroke-width="1" stroke-linejoin="round" />
<polygon points="802.9,242.4 835.8,233.6 845.7,253.4 859.9,274.2 842.4,279 785.4,249.4" fill="#6a6a6a" stroke="#000" stroke-width="0.9" stroke-linejoin="round" />
<polygon points="806.2,245.7 835.8,234.7 838,242.4 807.3,254.4" fill="#808080" stroke="#000" stroke-width="0.8" stroke-linejoin="round" />
<line x1="810.6" y1="257.7" x2="835.8" y2="246.8" stroke="#333" stroke-width="1.6" stroke-dasharray="0.8 0.8"/>
<polygon points="824.8,268.7 844.6,258.8 849,264.3 831.4,273.1" fill="#8a8a8a" stroke="#000" stroke-width="0.8" stroke-linejoin="round" />
<polygon points="844.6,281.9 857.7,275.3 862.1,278.6 850.1,285.2" fill="#909090" stroke="#000" stroke-width="0.8" stroke-linejoin="round" />
<polygon points="802.9,205.1 835.8,186.5 857.7,186.5 867.6,190.8 833.6,208.4 813.9,207.3" fill="#bdbdbd" stroke="#000" stroke-width="0.9" stroke-linejoin="round" />
<polygon points="829.2,205.1 862.1,188.6 868.7,190.8 835.8,209.5" fill="#8a8a8a" stroke="#000" stroke-width="0.8" stroke-linejoin="round" />
<line x1="831.4" y1="206.2" x2="864.3" y2="189.7" stroke="#333" stroke-width="1.4" stroke-dasharray="0.8 0.8"/>
<path d="M783.6 238 Q783.2 220.4 802.9 206.2 L813.9 209.5 L810.6 235.8 L802.9 251.2 L785.4 246.8 Z" fill="#a8a8a8" stroke="#000" stroke-width="0.9" stroke-linejoin="round" />
<ellipse cx="793" cy="235.8" rx="3.2" ry="4.3" fill="#cfcfcf" stroke="#000" stroke-width="0.8" />
<path d="M790.8 219.4 L802.9 206.2 L813.9 209.5 L815 231.4 L796.3 233.6 Q791.9 227 790.8 219.4 Z" fill="#b0b0b0" stroke="#000" stroke-width="0.9" stroke-linejoin="round" />
<ellipse cx="805.1" cy="221.5" rx="3.2" ry="4.3" fill="#cfcfcf" stroke="#000" stroke-width="0.8" />
<path d="M810.6 208.4 L829.2 205.1 L833.6 224.8 L825.9 235.8 L815 233.6 Q811.7 222.6 810.6 208.4 Z" fill="#a8a8a8" stroke="#000" stroke-width="0.9" stroke-linejoin="round" />
<ellipse cx="823.7" cy="219.4" rx="3.2" ry="4.3" fill="#cfcfcf" stroke="#000" stroke-width="0.8" />
<polygon points="1049,322.5 1082.6,305.2 1086,309.5 1050.6,331" fill="#7c7c7c" stroke="#000" stroke-width="0.9" stroke-linejoin="round" />
<polygon points="866.5,192.4 879.7,199 889.5,203.8 888.4,208.8 885.6,203.3" fill="#8c8c8c" stroke="#000" stroke-width="0.8" stroke-linejoin="round" />
<polygon points="832.5,211.5 854.4,222.6 888.4,203.3 866.5,192.2" fill="#d0d0d0" stroke="#000" stroke-width="0.9" stroke-linejoin="round" />
<polyline points="856,197.9 877.5,209.3" fill="none" stroke="#000" stroke-width="0.6" stroke-linejoin="round" stroke-linecap="round" />
<polyline points="857.7,196.8 879.2,208.2" fill="none" stroke="#555" stroke-width="0.5" stroke-linejoin="round" stroke-linecap="round" />
<path d="M831.9 211.7 L854.2 223.1 L854.7 233 Q853.8 241.5 843.5 241.9 Q832.3 242.4 831.9 234.5 Z" fill="#a8a8a8" stroke="#000" stroke-width="0.9" stroke-linejoin="round" />
<ellipse cx="844.6" cy="229.7" rx="3.1" ry="4.2" fill="#cfcfcf" stroke="#000" stroke-width="0.8" />
<polygon points="831.9,211.7 835.8,213.6 835.4,217.6 831.9,216.1" fill="#c4c4c4" stroke="#000" stroke-width="0.7" stroke-linejoin="round" />
<polygon points="887.8,203.3 900.9,209.9 910.8,214.7 909.7,219.8 906.9,214.3" fill="#8c8c8c" stroke="#000" stroke-width="0.8" stroke-linejoin="round" />
<polygon points="853.8,222.4 875.7,233.6 909.7,214.3 887.8,203.1" fill="#d0d0d0" stroke="#000" stroke-width="0.9" stroke-linejoin="round" />
<polyline points="877.3,208.8 898.8,220.2" fill="none" stroke="#000" stroke-width="0.6" stroke-linejoin="round" stroke-linecap="round" />
<polyline points="879,207.7 900.5,219.1" fill="none" stroke="#555" stroke-width="0.5" stroke-linejoin="round" stroke-linecap="round" />
<path d="M853.1 222.6 L875.5 234 L875.9 243.9 Q875.1 252.5 864.8 252.9 Q853.6 253.4 853.1 245.5 Z" fill="#a8a8a8" stroke="#000" stroke-width="0.9" stroke-linejoin="round" />
<ellipse cx="865.9" cy="240.6" rx="3.1" ry="4.2" fill="#cfcfcf" stroke="#000" stroke-width="0.8" />
<polygon points="853.1,222.6 857.1,224.6 856.6,228.6 853.1,227" fill="#c4c4c4" stroke="#000" stroke-width="0.7" stroke-linejoin="round" />
<polygon points="909.3,215 922.4,221.5 932.3,226.4 931.2,231.4 928.4,225.9" fill="#8c8c8c" stroke="#000" stroke-width="0.8" stroke-linejoin="round" />
<polygon points="875.3,234 897.2,245.2 931.2,225.9 909.3,214.7" fill="#d0d0d0" stroke="#000" stroke-width="0.9" stroke-linejoin="round" />
<polyline points="898.8,220.4 920.3,231.9" fill="none" stroke="#000" stroke-width="0.6" stroke-linejoin="round" stroke-linecap="round" />
<polyline points="900.5,219.4 922,230.8" fill="none" stroke="#555" stroke-width="0.5" stroke-linejoin="round" stroke-linecap="round" />
<path d="M874.6 234.3 L897 245.7 L897.4 255.5 Q896.6 264.1 886.3 264.5 Q875.1 265 874.6 257.1 Z" fill="#a8a8a8" stroke="#000" stroke-width="0.9" stroke-linejoin="round" />
<ellipse cx="887.4" cy="252.3" rx="3.1" ry="4.2" fill="#cfcfcf" stroke="#000" stroke-width="0.8" />
<polygon points="874.6,234.3 878.6,236.2 878.1,240.2 874.6,238.7" fill="#c4c4c4" stroke="#000" stroke-width="0.7" stroke-linejoin="round" />
<polygon points="930.6,226.6 943.7,233.2 953.6,238 952.5,243 949.6,237.6" fill="#8c8c8c" stroke="#000" stroke-width="0.8" stroke-linejoin="round" />
<polygon points="896.6,245.7 918.5,256.9 952.5,237.6 930.6,226.4" fill="#d0d0d0" stroke="#000" stroke-width="0.9" stroke-linejoin="round" />
<polyline points="920,232.1 941.5,243.5" fill="none" stroke="#000" stroke-width="0.6" stroke-linejoin="round" stroke-linecap="round" />
<polyline points="921.8,231 943.3,242.4" fill="none" stroke="#555" stroke-width="0.5" stroke-linejoin="round" stroke-linecap="round" />
<path d="M895.9 245.9 L918.3 257.3 L918.7 267.2 Q917.8 275.7 907.5 276.2 Q896.3 276.6 895.9 268.7 Z" fill="#a8a8a8" stroke="#000" stroke-width="0.9" stroke-linejoin="round" />
<ellipse cx="908.6" cy="263.9" rx="3.1" ry="4.2" fill="#cfcfcf" stroke="#000" stroke-width="0.8" />
<polygon points="895.9,245.9 899.9,247.9 899.4,251.8 895.9,250.3" fill="#c4c4c4" stroke="#000" stroke-width="0.7" stroke-linejoin="round" />
<polygon points="952.1,238 965.2,244.6 975.1,249.4 974,254.4 971.1,249" fill="#8c8c8c" stroke="#000" stroke-width="0.8" stroke-linejoin="round" />
<polygon points="918.1,257.1 940,268.3 974,249 952.1,237.8" fill="#d0d0d0" stroke="#000" stroke-width="0.9" stroke-linejoin="round" />
<polyline points="941.5,243.5 963,254.9" fill="none" stroke="#000" stroke-width="0.6" stroke-linejoin="round" stroke-linecap="round" />
<polyline points="943.3,242.4 964.8,253.8" fill="none" stroke="#555" stroke-width="0.5" stroke-linejoin="round" stroke-linecap="round" />
<path d="M917.4 257.3 L939.8 268.7 L940.2 278.6 Q939.3 287.1 929 287.6 Q917.8 288 917.4 280.1 Z" fill="#a8a8a8" stroke="#000" stroke-width="0.9" stroke-linejoin="round" />
<ellipse cx="930.1" cy="275.3" rx="3.1" ry="4.2" fill="#cfcfcf" stroke="#000" stroke-width="0.8" />
<polygon points="917.4,257.3 921.3,259.3 920.9,263.2 917.4,261.7" fill="#c4c4c4" stroke="#000" stroke-width="0.7" stroke-linejoin="round" />
<polygon points="974,249.4 987.2,256 997,260.8 995.9,265.9 993.1,260.4" fill="#8c8c8c" stroke="#000" stroke-width="0.8" stroke-linejoin="round" />
<polygon points="940,268.5 961.9,279.7 995.9,260.4 974,249.2" fill="#d0d0d0" stroke="#000" stroke-width="0.9" stroke-linejoin="round" />
<polyline points="963.5,254.9 985,266.3" fill="none" stroke="#000" stroke-width="0.6" stroke-linejoin="round" stroke-linecap="round" />
<polyline points="965.2,253.8 986.7,265.2" fill="none" stroke="#555" stroke-width="0.5" stroke-linejoin="round" stroke-linecap="round" />
<path d="M939.3 268.7 L961.7 280.1 L962.1 290 Q961.3 298.5 951 299 Q939.8 299.4 939.3 291.5 Z" fill="#a8a8a8" stroke="#000" stroke-width="0.9" stroke-linejoin="round" />
<ellipse cx="952.1" cy="286.7" rx="3.1" ry="4.2" fill="#cfcfcf" stroke="#000" stroke-width="0.8" />
<polygon points="939.3,268.7 943.3,270.7 942.8,274.6 939.3,273.1" fill="#c4c4c4" stroke="#000" stroke-width="0.7" stroke-linejoin="round" />
<polygon points="995.9,261 1009.1,267.6 1019,272.4 1017.9,277.5 1015,272" fill="#8c8c8c" stroke="#000" stroke-width="0.8" stroke-linejoin="round" />
<polygon points="961.9,280.1 983.9,291.3 1017.9,272 995.9,260.8" fill="#d0d0d0" stroke="#000" stroke-width="0.9" stroke-linejoin="round" />
<polyline points="985.4,266.5 1006.9,277.9" fill="none" stroke="#000" stroke-width="0.6" stroke-linejoin="round" stroke-linecap="round" />
<polyline points="987.2,265.4 1008.6,276.8" fill="none" stroke="#555" stroke-width="0.5" stroke-linejoin="round" stroke-linecap="round" />
<path d="M961.3 280.3 L983.6 291.7 L984.1 301.6 Q983.2 310.2 972.9 310.6 Q961.7 311 961.3 303.1 Z" fill="#a8a8a8" stroke="#000" stroke-width="0.9" stroke-linejoin="round" />
<ellipse cx="974" cy="298.3" rx="3.1" ry="4.2" fill="#cfcfcf" stroke="#000" stroke-width="0.8" />
<polygon points="961.3,280.3 965.2,282.3 964.8,286.3 961.3,284.7" fill="#c4c4c4" stroke="#000" stroke-width="0.7" stroke-linejoin="round" />
<polygon points="1017.9,272 1031,278.6 1040.9,283.4 1039.8,288.4 1036.9,283" fill="#8c8c8c" stroke="#000" stroke-width="0.8" stroke-linejoin="round" />
<polygon points="983.9,291.1 1005.8,302.3 1039.8,283 1017.9,271.8" fill="#d0d0d0" stroke="#000" stroke-width="0.9" stroke-linejoin="round" />
<polyline points="1007.3,277.5 1028.8,288.9" fill="none" stroke="#000" stroke-width="0.6" stroke-linejoin="round" stroke-linecap="round" />
<polyline points="1009.1,276.4 1030.6,287.8" fill="none" stroke="#555" stroke-width="0.5" stroke-linejoin="round" stroke-linecap="round" />
<path d="M983.2 291.3 L1005.6 302.7 L1006 312.6 Q1005.1 321.1 994.8 321.6 Q983.6 322 983.2 314.1 Z" fill="#a8a8a8" stroke="#000" stroke-width="0.9" stroke-linejoin="round" />
<ellipse cx="995.9" cy="309.3" rx="3.1" ry="4.2" fill="#cfcfcf" stroke="#000" stroke-width="0.8" />
<polygon points="983.2,291.3 987.2,293.3 986.7,297.2 983.2,295.7" fill="#c4c4c4" stroke="#000" stroke-width="0.7" stroke-linejoin="round" />
<polygon points="1039.8,284.1 1053,290.6 1062.8,295.5 1061.7,300.5 1058.9,295" fill="#8c8c8c" stroke="#000" stroke-width="0.8" stroke-linejoin="round" />
<polygon points="1005.8,303.1 1027.7,314.3 1061.7,295 1039.8,283.8" fill="#d0d0d0" stroke="#000" stroke-width="0.9" stroke-linejoin="round" />
<polyline points="1029.3,289.5 1050.8,300.9" fill="none" stroke="#000" stroke-width="0.6" stroke-linejoin="round" stroke-linecap="round" />
<polyline points="1031,288.4 1052.5,299.9" fill="none" stroke="#555" stroke-width="0.5" stroke-linejoin="round" stroke-linecap="round" />
<path d="M1005.1 303.4 L1027.5 314.8 L1028 324.6 Q1027.1 333.2 1016.8 333.6 Q1005.6 334.1 1005.1 326.2 Z" fill="#a8a8a8" stroke="#000" stroke-width="0.9" stroke-linejoin="round" />
<ellipse cx="1017.9" cy="321.3" rx="3.1" ry="4.2" fill="#cfcfcf" stroke="#000" stroke-width="0.8" />
<polygon points="1005.1,303.4 1009.1,305.3 1008.6,309.3 1005.1,307.7" fill="#c4c4c4" stroke="#000" stroke-width="0.7" stroke-linejoin="round" />
<polygon points="1061.7,295 1074.9,301.6 1084.8,306.4 1083.7,311.5 1080.8,306" fill="#8c8c8c" stroke="#000" stroke-width="0.8" stroke-linejoin="round" />
<polygon points="1027.7,314.1 1049.7,325.3 1083.7,306 1061.7,294.8" fill="#d0d0d0" stroke="#000" stroke-width="0.9" stroke-linejoin="round" />
<polyline points="1051.2,300.5 1072.7,311.9" fill="none" stroke="#000" stroke-width="0.6" stroke-linejoin="round" stroke-linecap="round" />
<polyline points="1053,299.4 1074.5,310.8" fill="none" stroke="#555" stroke-width="0.5" stroke-linejoin="round" stroke-linecap="round" />
<path d="M1027.1 314.3 L1049.4 325.7 L1049.9 335.6 Q1049 344.2 1038.7 344.6 Q1027.5 345 1027.1 337.1 Z" fill="#a8a8a8" stroke="#000" stroke-width="0.9" stroke-linejoin="round" />
<ellipse cx="1039.8" cy="332.3" rx="3.1" ry="4.2" fill="#cfcfcf" stroke="#000" stroke-width="0.8" />
<polygon points="1027.1,314.3 1031,316.3 1030.6,320.3 1027.1,318.7" fill="#c4c4c4" stroke="#000" stroke-width="0.7" stroke-linejoin="round" />
<polygon points="866.5,192.2 870.9,189.7 877.5,193.3 873.5,195.7" fill="#9a9a9a" stroke="#000" stroke-width="0.7" stroke-linejoin="round" />
<polygon points="887.8,203.1 892.2,200.7 898.8,204.2 894.8,206.6" fill="#9a9a9a" stroke="#000" stroke-width="0.7" stroke-linejoin="round" />
<polygon points="909.3,214.7 913.7,212.3 920.3,215.8 916.3,218.3" fill="#9a9a9a" stroke="#000" stroke-width="0.7" stroke-linejoin="round" />
<polygon points="930.6,226.4 934.9,224 941.5,227.5 937.6,229.9" fill="#9a9a9a" stroke="#000" stroke-width="0.7" stroke-linejoin="round" />
<polygon points="952.1,237.8 956.4,235.4 963,238.9 959.1,241.3" fill="#9a9a9a" stroke="#000" stroke-width="0.7" stroke-linejoin="round" />
<polygon points="974,249.2 978.4,246.8 985,250.3 981,252.7" fill="#9a9a9a" stroke="#000" stroke-width="0.7" stroke-linejoin="round" />
<polygon points="995.9,260.8 1000.3,258.4 1006.9,261.9 1002.9,264.3" fill="#9a9a9a" stroke="#000" stroke-width="0.7" stroke-linejoin="round" />
<polygon points="1017.9,271.8 1022.2,269.4 1028.8,272.9 1024.9,275.3" fill="#9a9a9a" stroke="#000" stroke-width="0.7" stroke-linejoin="round" />
<polygon points="1039.8,283.8 1044.2,281.4 1050.8,284.9 1046.8,287.4" fill="#9a9a9a" stroke="#000" stroke-width="0.7" stroke-linejoin="round" />
<polygon points="1061.7,294.8 1066.1,292.4 1072.7,295.9 1068.7,298.3" fill="#9a9a9a" stroke="#000" stroke-width="0.7" stroke-linejoin="round" />
<polygon points="963.3,380.4 1037.8,422.1 1036.8,451 963.3,407.2" fill="#b2b2b2" stroke="#000" stroke-width="1" stroke-linejoin="round" />
<polygon points="963.3,407.2 1036.8,451 1036.8,460.9 961.3,419.2" fill="#a0a0a0" stroke="#000" stroke-width="1" stroke-linejoin="round" />
<polygon points="1037.4,421.2 1102.6,385.4 1102.6,407.5 1037.4,445" fill="#595959" stroke="#000" stroke-width="1" stroke-linejoin="round" />
<path d="M1117 381 l0 6 q9 5 19 0 l0 -12z" fill="#5c5c5c" stroke="#000" stroke-width="0.9" stroke-linejoin="round" />
<polygon points="1102.6,385.4 1166.5,346 1167.5,351.5 1102.6,391.5" fill="#555" stroke="#000" stroke-width="0.9" stroke-linejoin="round" />
<polygon points="1141,370.2 1158.9,381 1159.4,385.4 1141.6,374.4" fill="#888" stroke="#000" stroke-width="0.9" stroke-linejoin="round" />
<polygon points="1158.9,381 1165.2,377.4 1165.5,381.9 1159.4,385.4" fill="#9a9a9a" stroke="#000" stroke-width="0.9" stroke-linejoin="round" />
<polygon points="1141,370.2 1147.6,367 1165.2,377.4 1158.9,381" fill="#d0d0d0" stroke="#000" stroke-width="0.9" stroke-linejoin="round" />
<polygon points="1151.5,365.4 1169.4,376.2 1169.9,380.6 1152.1,369.6" fill="#888" stroke="#000" stroke-width="0.9" stroke-linejoin="round" />
<polygon points="1169.4,376.2 1175.7,372.6 1176,377.1 1169.9,380.6" fill="#9a9a9a" stroke="#000" stroke-width="0.9" stroke-linejoin="round" />
<polygon points="1151.5,365.4 1158.1,362.2 1175.7,372.6 1169.4,376.2" fill="#d0d0d0" stroke="#000" stroke-width="0.9" stroke-linejoin="round" />
<polygon points="1161.7,358.9 1179.6,369.7 1180.1,374.1 1162.3,363.1" fill="#888" stroke="#000" stroke-width="0.9" stroke-linejoin="round" />
<polygon points="1179.6,369.7 1185.9,366.1 1186.2,370.6 1180.1,374.1" fill="#9a9a9a" stroke="#000" stroke-width="0.9" stroke-linejoin="round" />
<polygon points="1161.7,358.9 1168.3,355.7 1185.9,366.1 1179.6,369.7" fill="#d0d0d0" stroke="#000" stroke-width="0.9" stroke-linejoin="round" />
<polygon points="1162.5,348.8 1171.4,345.2 1171.8,350.6 1163.4,354.7" fill="#777" stroke="#000" stroke-width="0.9" stroke-linejoin="round" />
<path d="M963 381 L1093.5 306.5 Q1098.1 303.6 1103 306.3 L1164.5 336.8 Q1168.5 339 1167.3 344 L1167 345 L1037.4 421.2 Z" fill="#cecece" stroke="#000" stroke-width="1" stroke-linejoin="round" />
<ellipse cx="1044.2" cy="358.6" rx="8.5" ry="5.3" fill="url(#hole)" stroke="#000" stroke-width="0.8" />
<ellipse cx="1073.1" cy="374.4" rx="8.5" ry="5.3" fill="url(#hole)" stroke="#000" stroke-width="0.8" />
<ellipse cx="992.7" cy="389.4" rx="8.5" ry="5.3" fill="url(#hole)" stroke="#000" stroke-width="0.8" />
<ellipse cx="1021" cy="405.1" rx="8.5" ry="5.3" fill="url(#hole)" stroke="#000" stroke-width="0.8" />
<ellipse cx="1029.9" cy="351.5" rx="4.2" ry="2.7" fill="url(#hole)" stroke="#000" stroke-width="0.8" />
<ellipse cx="1031.5" cy="367" rx="4.2" ry="2.7" fill="url(#hole)" stroke="#000" stroke-width="0.8" />
<ellipse cx="978.4" cy="382.2" rx="4.2" ry="2.7" fill="url(#hole)" stroke="#000" stroke-width="0.8" />
<ellipse cx="1005.6" cy="381.9" rx="4.2" ry="2.7" fill="url(#hole)" stroke="#000" stroke-width="0.8" />
<ellipse cx="1032.7" cy="381.9" rx="4.2" ry="2.7" fill="url(#hole)" stroke="#000" stroke-width="0.8" />
<ellipse cx="1060.1" cy="381.9" rx="4.2" ry="2.7" fill="url(#hole)" stroke="#000" stroke-width="0.8" />
<ellipse cx="1087.4" cy="381.9" rx="4.2" ry="2.7" fill="url(#hole)" stroke="#000" stroke-width="0.8" />
<ellipse cx="1034.2" cy="397.4" rx="4.2" ry="2.7" fill="url(#hole)" stroke="#000" stroke-width="0.8" />
<ellipse cx="1035.6" cy="413.1" rx="4.2" ry="2.7" fill="url(#hole)" stroke="#000" stroke-width="0.8" />
<ellipse cx="1053.5" cy="334.1" rx="2.2" ry="1.5" fill="#555" stroke="#000" stroke-width="0.7" />
<ellipse cx="1074" cy="322.4" rx="2.2" ry="1.5" fill="#555" stroke="#000" stroke-width="0.7" />
<ellipse cx="1083.9" cy="326.8" rx="2.2" ry="1.5" fill="#555" stroke="#000" stroke-width="0.7" />
<ellipse cx="1094" cy="320.6" rx="2.2" ry="1.5" fill="#555" stroke="#000" stroke-width="0.7" />
<ellipse cx="1096.4" cy="309.1" rx="2.2" ry="1.5" fill="#555" stroke="#000" stroke-width="0.7" />
<ellipse cx="1128.5" cy="349.7" rx="2.2" ry="1.5" fill="#555" stroke="#000" stroke-width="0.7" />
<ellipse cx="1138.4" cy="343.8" rx="2.2" ry="1.5" fill="#555" stroke="#000" stroke-width="0.7" />
<ellipse cx="1136.6" cy="355.6" rx="2.2" ry="1.5" fill="#555" stroke="#000" stroke-width="0.7" />
<ellipse cx="1158.9" cy="342" rx="2.2" ry="1.5" fill="#555" stroke="#000" stroke-width="0.7" />
<ellipse cx="1116.6" cy="367.6" rx="2.2" ry="1.5" fill="#555" stroke="#000" stroke-width="0.7" />
<polygon points="1076.8,597.3 1130.4,640 1180.7,604.5 1177.2,719.5 1126.9,755 1073.4,712.3" fill="#686868" stroke="#000" stroke-width="1.1" stroke-linejoin="round" />
<polygon points="1076.8,597.3 1130.4,640 1126.9,755 1073.4,712.3" fill="#8e8e8e" stroke="#000" stroke-width="1.1" stroke-linejoin="round" />
<polygon points="1076.8,597.3 1082.7,602 1079.3,717 1073.4,712.3" fill="#a8a8a8" stroke="#000" stroke-width="0.9" stroke-linejoin="round" />
<polygon points="1082.7,602 1085.9,604.5 1082.5,719.6 1079.3,717" fill="#5c5c5c" stroke="#000" stroke-width="0.9" stroke-linejoin="round" />
<polygon points="1085.9,604.5 1091.8,609.2 1088.4,724.3 1082.5,719.6" fill="#a0a0a0" stroke="#000" stroke-width="0.9" stroke-linejoin="round" />
<polygon points="1091.8,609.2 1093.4,610.5 1090,725.6 1088.4,724.3" fill="#555" stroke="#000" stroke-width="0.9" stroke-linejoin="round" />
<polygon points="1093.4,610.5 1111.1,624.6 1107.6,739.7 1090,725.6" fill="url(#post)" stroke="#000" stroke-width="0.9" stroke-linejoin="round" />
<polygon points="1111.1,624.6 1114.3,627.2 1110.8,742.2 1107.6,739.7" fill="#555" stroke="#000" stroke-width="0.9" stroke-linejoin="round" />
<polygon points="1114.3,627.2 1119.6,631.5 1116.2,746.5 1110.8,742.2" fill="#9a9a9a" stroke="#000" stroke-width="0.9" stroke-linejoin="round" />
<polygon points="1119.6,631.5 1122.9,634 1119.4,749.1 1116.2,746.5" fill="#5a5a5a" stroke="#000" stroke-width="0.9" stroke-linejoin="round" />
<polygon points="1122.9,634 1130.4,640 1126.9,755 1119.4,749.1" fill="#9c9c9c" stroke="#000" stroke-width="0.9" stroke-linejoin="round" />
<polygon points="1130.4,640 1135.4,636.4 1131.9,751.5 1126.9,755" fill="#7c7c7c" stroke="#000" stroke-width="0.9" stroke-linejoin="round" />
<polygon points="1135.4,636.4 1137.4,635 1133.9,750.1 1131.9,751.5" fill="#505050" stroke="#000" stroke-width="0.9" stroke-linejoin="round" />
<polygon points="1137.4,635 1142.4,631.5 1139,746.5 1133.9,750.1" fill="#808080" stroke="#000" stroke-width="0.9" stroke-linejoin="round" />
<polygon points="1142.4,631.5 1145.5,629.3 1142,744.4 1139,746.5" fill="#505050" stroke="#000" stroke-width="0.9" stroke-linejoin="round" />
<polygon points="1145.5,629.3 1164.6,615.9 1161.1,733.9 1142,747.4" fill="#626262" stroke="#000" stroke-width="0.9" stroke-linejoin="round" />
<polygon points="1164.6,615.9 1168.6,613 1165.2,728.1 1161.1,730.9" fill="#505050" stroke="#000" stroke-width="0.9" stroke-linejoin="round" />
<polygon points="1168.6,613 1173.7,609.5 1170.2,724.5 1165.2,728.1" fill="#7a7a7a" stroke="#000" stroke-width="0.9" stroke-linejoin="round" />
<polygon points="1173.7,609.5 1175.7,608 1172.2,723.1 1170.2,724.5" fill="#4c4c4c" stroke="#000" stroke-width="0.9" stroke-linejoin="round" />
<polygon points="1175.7,608 1180.7,604.5 1177.2,719.5 1172.2,723.1" fill="#6c6c6c" stroke="#000" stroke-width="0.9" stroke-linejoin="round" />
<polygon points="837.8,941.3 778.7,895.3 778.7,908.7 837.8,952.5" fill="url(#basef)" stroke="#000" stroke-width="1.1" stroke-linejoin="round" />
<polygon points="778.7,895.3 780.6,887.5 780.6,900.8 778.7,908.7" fill="#888" stroke="#000" stroke-width="1.1" stroke-linejoin="round" />
<polygon points="851.9,941.1 837.8,941.3 837.8,952.5 851.9,952.3" fill="#8e8e8e" stroke="#000" stroke-width="1.1" stroke-linejoin="round" />
<polygon points="851.9,941.1 943.3,873.7 943.3,881.2 851.9,952.3" fill="#8a8a8a" stroke="#000" stroke-width="1.1" stroke-linejoin="round" />
<polygon points="943.3,873.7 943.2,868.1 943.2,875.6 943.3,881.2" fill="#777" stroke="#000" stroke-width="1.1" stroke-linejoin="round" />
<polygon points="851.9,941.1 943.3,873.7 943.2,868.1 881.2,819.8 870.9,821 780.6,887.5 778.7,895.3 837.8,941.3" fill="#cfcfcf" stroke="#000" stroke-width="1.1" stroke-linejoin="round" />
<ellipse cx="794.5" cy="892.1" rx="4" ry="2.2" fill="url(#hole)" stroke="#000" stroke-width="0.7" />
<ellipse cx="847" cy="929.8" rx="4" ry="2.2" fill="url(#hole)" stroke="#000" stroke-width="0.7" />
<ellipse cx="927.6" cy="871.5" rx="4" ry="2.2" fill="url(#hole)" stroke="#000" stroke-width="0.7" />
<ellipse cx="823.6" cy="896.1" rx="2.4" ry="1.3" fill="url(#hole)" stroke="#000" stroke-width="0.7" />
<ellipse cx="845" cy="914.3" rx="2.4" ry="1.3" fill="url(#hole)" stroke="#000" stroke-width="0.7" />
<ellipse cx="911.6" cy="865.2" rx="2.1" ry="1.2" fill="url(#hole)" stroke="#000" stroke-width="0.7" />
<ellipse cx="798.9" cy="881.5" rx="2.6" ry="1.4" fill="url(#hole)" stroke="#000" stroke-width="0.7" />
<ellipse cx="827.5" cy="909.2" rx="2.4" ry="1.3" fill="url(#hole)" stroke="#000" stroke-width="0.7" />
<polygon points="807.2,748 861.1,790 915.4,750 915.4,883.7 861.1,923.7 807.2,881.7" fill="#686868" stroke="#000" stroke-width="1.1" stroke-linejoin="round" />
<polygon points="807.2,748 861.1,790 861.1,923.7 807.2,881.7" fill="#8e8e8e" stroke="#000" stroke-width="1.1" stroke-linejoin="round" />
<polygon points="807.2,748 813.1,752.7 813.1,886.3 807.2,881.7" fill="#a8a8a8" stroke="#000" stroke-width="0.9" stroke-linejoin="round" />
<polygon points="813.1,752.7 816.3,755.2 816.3,888.9 813.1,886.3" fill="#5c5c5c" stroke="#000" stroke-width="0.9" stroke-linejoin="round" />
<polygon points="816.3,755.2 822.3,759.8 822.3,893.5 816.3,888.9" fill="#a0a0a0" stroke="#000" stroke-width="0.9" stroke-linejoin="round" />
<polygon points="822.3,759.8 823.9,761 823.9,894.7 822.3,893.5" fill="#555" stroke="#000" stroke-width="0.9" stroke-linejoin="round" />
<polygon points="823.9,761 841.7,774.9 841.7,908.6 823.9,894.7" fill="url(#post)" stroke="#000" stroke-width="0.9" stroke-linejoin="round" />
<polygon points="841.7,774.9 844.9,777.4 844.9,911.1 841.7,908.6" fill="#555" stroke="#000" stroke-width="0.9" stroke-linejoin="round" />
<polygon points="844.9,777.4 850.3,781.6 850.3,915.3 844.9,911.1" fill="#9a9a9a" stroke="#000" stroke-width="0.9" stroke-linejoin="round" />
<polygon points="850.3,781.6 853.5,784.1 853.5,917.8 850.3,915.3" fill="#5a5a5a" stroke="#000" stroke-width="0.9" stroke-linejoin="round" />
<polygon points="853.5,784.1 861.1,790 861.1,923.7 853.5,917.8" fill="#9c9c9c" stroke="#000" stroke-width="0.9" stroke-linejoin="round" />
<polygon points="861.1,790 866.5,786 866.5,919.7 861.1,923.7" fill="#7c7c7c" stroke="#000" stroke-width="0.9" stroke-linejoin="round" />
<polygon points="866.5,786 868.7,784.4 868.7,918.1 866.5,919.7" fill="#505050" stroke="#000" stroke-width="0.9" stroke-linejoin="round" />
<polygon points="868.7,784.4 874.1,780.4 874.1,914.1 868.7,918.1" fill="#808080" stroke="#000" stroke-width="0.9" stroke-linejoin="round" />
<polygon points="874.1,780.4 877.4,778 877.4,911.7 874.1,914.1" fill="#505050" stroke="#000" stroke-width="0.9" stroke-linejoin="round" />
<polygon points="877.4,778 898,762.8 898,899.5 877.4,914.7" fill="#626262" stroke="#000" stroke-width="0.9" stroke-linejoin="round" />
<polygon points="898,762.8 902.4,759.6 902.4,893.3 898,896.5" fill="#505050" stroke="#000" stroke-width="0.9" stroke-linejoin="round" />
<polygon points="902.4,759.6 907.8,755.6 907.8,889.3 902.4,893.3" fill="#7a7a7a" stroke="#000" stroke-width="0.9" stroke-linejoin="round" />
<polygon points="907.8,755.6 910,754 910,887.7 907.8,889.3" fill="#4c4c4c" stroke="#000" stroke-width="0.9" stroke-linejoin="round" />
<polygon points="910,754 915.4,750 915.4,883.7 910,887.7" fill="#6c6c6c" stroke="#000" stroke-width="0.9" stroke-linejoin="round" />
<linearGradient id="rod1" gradientUnits="userSpaceOnUse" x1="930" y1="698" x2="935" y2="706"><stop offset="0" stop-color="#8a1c20"/><stop offset="0.35" stop-color="#ff3a42"/><stop offset="0.6" stop-color="#f03038"/><stop offset="1" stop-color="#7e181c"/></linearGradient>
<polygon points="766.8,754.2 1215,472 1215,484.5 776.7,760.5" fill="#ff3038" stroke="#000" stroke-width="1" stroke-linejoin="round" />
<polygon points="776.7,760.5 1215,484.5 1215,505 792.8,770.9" fill="#8c2024" stroke="#000" stroke-width="1" stroke-linejoin="round" />
<polygon points="792.8,770.9 1215,505 1215,507.5 794.8,772.1" fill="#7a1a1e" stroke="#000" stroke-width="1" stroke-linejoin="round" />
<polygon points="794.8,772.1 1215,507.5 1215,517.2 802.4,777" fill="#a3262c" stroke="#000" stroke-width="1" stroke-linejoin="round" />
<polygon points="802.4,777 1215,517.2 1215,518.6 803.5,777.7" fill="#5a1014" stroke="#000" stroke-width="1" stroke-linejoin="round" />
<polygon points="803.5,777.7 1215,518.6 1215,528 810.9,782.5" fill="url(#rod1)" stroke="#000" stroke-width="1" stroke-linejoin="round" />
<polygon points="810.9,782.5 1215,528 1215,553 830.6,795.1" fill="#ff3038" stroke="#000" stroke-width="1" stroke-linejoin="round" />
<polygon points="832,794.2 1215,553 1215,555.5 832,796.7" fill="#8c2024" stroke="#000" stroke-width="1" stroke-linejoin="round" />
<polygon points="832,796.7 1215,555.5 1215,565 832,806.2" fill="#ff3038" stroke="#000" stroke-width="1" stroke-linejoin="round" />
<polygon points="832,806.2 1215,565 1215,577 832,818.2" fill="#8c2024" stroke="#000" stroke-width="1" stroke-linejoin="round" />
<polygon points="832,818.2 1215,577 1215,581 832,822.2" fill="#ff3038" stroke="#000" stroke-width="1" stroke-linejoin="round" />
<polygon points="832,822.2 1215,581 1215,590.5 832,831.7" fill="#8c2024" stroke="#000" stroke-width="1" stroke-linejoin="round" />
<polygon points="832,831.7 1215,590.5 1215,597 832,838.2" fill="#ff3038" stroke="#000" stroke-width="1" stroke-linejoin="round" />
<line x1="794.4" y1="771.6" x2="1106" y2="575.4" stroke="#300" stroke-width="2.6" stroke-dasharray="0.9 0.9"/>
<ellipse cx="824.5" cy="775" rx="4.6" ry="1.7" fill="#e0c4c4" stroke="#000" stroke-width="0.7" transform="rotate(-32 824.5 775)" />
<ellipse cx="878.7" cy="740.8" rx="4.6" ry="1.7" fill="#e0c4c4" stroke="#000" stroke-width="0.7" transform="rotate(-32 878.7 740.8)" />
<ellipse cx="933.1" cy="706.6" rx="4.6" ry="1.7" fill="#e0c4c4" stroke="#000" stroke-width="0.7" transform="rotate(-32 933.1 706.6)" />
<ellipse cx="987.5" cy="672.3" rx="4.6" ry="1.7" fill="#e0c4c4" stroke="#000" stroke-width="0.7" transform="rotate(-32 987.5 672.3)" />
<ellipse cx="1041" cy="638.6" rx="4.6" ry="1.7" fill="#e0c4c4" stroke="#000" stroke-width="0.7" transform="rotate(-32 1041 638.6)" />
<ellipse cx="1093.4" cy="605.7" rx="4.6" ry="1.7" fill="#e0c4c4" stroke="#000" stroke-width="0.7" transform="rotate(-32 1093.4 605.7)" />
<polygon points="1087.2,544.4 1166,588 1164,594 1143,590 1136,591 1112,574 1104.7,572.8 1104.7,561 1087.2,552" fill="#d83a40" stroke="#000" stroke-width="1" stroke-linejoin="round" />
<ellipse cx="1118" cy="566" rx="3.6" ry="4.8" fill="#a01e24" stroke="#000" stroke-width="0.8" transform="rotate(-30 1118 566)" />
<ellipse cx="1134" cy="580.5" rx="3.6" ry="4.8" fill="#a01e24" stroke="#000" stroke-width="0.8" transform="rotate(-30 1134 580.5)" />
<ellipse cx="1127" cy="587" rx="3.6" ry="4.8" fill="#a01e24" stroke="#000" stroke-width="0.8" transform="rotate(-30 1127 587)" />
<polygon points="836,835.7 948,765.1 948,776.1 849.2,842.3" fill="#7a7a7a" stroke="#000" stroke-width="0.9" stroke-linejoin="round" />
<path d="M836 835.7v3.8M837.6 834.7v3.8M839.2 833.6v3.8M840.8 832.6v3.8M842.4 831.6v3.8M844 830.6v3.8M845.6 829.6v3.8M847.2 828.6v3.8M848.8 827.6v3.8M850.4 826.6v3.8M852 825.6v3.8M853.6 824.6v3.8M855.2 823.6v3.8M856.8 822.6v3.8M858.4 821.6v3.8M860 820.6v3.8M861.6 819.5v3.8M863.2 818.5v3.8M864.8 817.5v3.8M866.4 816.5v3.8M868 815.5v3.8M869.6 814.5v3.8M871.2 813.5v3.8M872.8 812.5v3.8M874.4 811.5v3.8M876 810.5v3.8M877.6 809.5v3.8M879.2 808.5v3.8M880.8 807.5v3.8M882.4 806.4v3.8M884 805.4v3.8M885.6 804.4v3.8M887.2 803.4v3.8M888.8 802.4v3.8M890.4 801.4v3.8M892 800.4v3.8M893.6 799.4v3.8M895.2 798.4v3.8M896.8 797.4v3.8M898.4 796.4v3.8M900 795.4v3.8M901.6 794.4v3.8M903.2 793.4v3.8M904.8 792.3v3.8M906.4 791.3v3.8M908 790.3v3.8M909.6 789.3v3.8M911.2 788.3v3.8M912.8 787.3v3.8M914.4 786.3v3.8M916 785.3v3.8M917.6 784.3v3.8M919.2 783.3v3.8M920.8 782.3v3.8M922.4 781.3v3.8M924 780.3v3.8M925.6 779.2v3.8M927.2 778.2v3.8M928.8 777.2v3.8M930.4 776.2v3.8M932 775.2v3.8M933.6 774.2v3.8M935.2 773.2v3.8M936.8 772.2v3.8M938.4 771.2v3.8M940 770.2v3.8M941.6 769.2v3.8M943.2 768.2v3.8M944.8 767.2v3.8M946.4 766.2v3.8" fill="none" stroke="#222" stroke-width="0.6" stroke-linejoin="round" />
<polygon points="743.7,759 757.9,748.5 832.2,796.1 819.1,806" fill="#ff3038" stroke="#000" stroke-width="1.1" stroke-linejoin="round" />
<polygon points="743.7,759 819.1,806 819.1,847.5 743.7,802.7" fill="#d83a40" stroke="#000" stroke-width="1.1" stroke-linejoin="round" />
<polygon points="819.1,806 832.2,796.1 832.2,837.6 819.1,847.5" fill="#8c2024" stroke="#000" stroke-width="1.1" stroke-linejoin="round" />
<polygon points="819.1,826 832.2,816.3 832.2,837.6 819.1,847.5" fill="#ff3038" stroke="#000" stroke-width="1.1" stroke-linejoin="round" />
<line x1="819.1" y1="833" x2="832.2" y2="823.3" stroke="#000" stroke-width="0.9" />
<line x1="819.1" y1="840.5" x2="832.2" y2="830.8" stroke="#000" stroke-width="0.9" />
<line x1="743.7" y1="768.5" x2="819.1" y2="815.5" stroke="#000" stroke-width="0.9" />
<line x1="743.7" y1="793.5" x2="819.1" y2="838.3" stroke="#000" stroke-width="0.9" />
<ellipse cx="748.5" cy="774.5" rx="2.8" ry="4" fill="url(#rhole)" stroke="#000" stroke-width="0.8" transform="rotate(-22 748.5 774.5)" />
<ellipse cx="748.5" cy="799.5" rx="2.8" ry="4" fill="url(#rhole)" stroke="#000" stroke-width="0.8" transform="rotate(-22 748.5 799.5)" />
<ellipse cx="815" cy="813.5" rx="2.8" ry="4" fill="url(#rhole)" stroke="#000" stroke-width="0.8" transform="rotate(-22 815 813.5)" />
<ellipse cx="815" cy="840.5" rx="2.8" ry="4" fill="url(#rhole)" stroke="#000" stroke-width="0.8" transform="rotate(-22 815 840.5)" />
<ellipse cx="766.5" cy="796" rx="3" ry="4.3" fill="url(#rhole)" stroke="#000" stroke-width="0.8" transform="rotate(-22 766.5 796)" />
<ellipse cx="796" cy="814.5" rx="3" ry="4.3" fill="url(#rhole)" stroke="#000" stroke-width="0.8" transform="rotate(-22 796 814.5)" />
<ellipse cx="771.5" cy="785" rx="1.7" ry="2.4" fill="url(#rhole)" stroke="#000" stroke-width="0.8" transform="rotate(-22 771.5 785)" />
<ellipse cx="791.5" cy="797" rx="1.6" ry="2.2" fill="url(#rhole)" stroke="#000" stroke-width="0.8" transform="rotate(-22 791.5 797)" />
<ellipse cx="781.5" cy="808.5" rx="1.6" ry="2.2" fill="url(#rhole)" stroke="#000" stroke-width="0.8" transform="rotate(-22 781.5 808.5)" />
<ellipse cx="781.5" cy="796" rx="5.3" ry="7" fill="#d83a40" stroke="#000" stroke-width="0.9" transform="rotate(-22 781.5 796)" />
<ellipse cx="781.5" cy="796" rx="3" ry="4.2" fill="#b02830" stroke="#000" stroke-width="0.8" transform="rotate(-22 781.5 796)" />
<ellipse cx="761.5" cy="760" rx="1.7" ry="1.3" fill="#300" />
<ellipse cx="815" cy="793.5" rx="1.7" ry="1.3" fill="#300" />
<linearGradient id="ldg" x1="0" y1="0" x2="1" y2="0"><stop offset="0" stop-color="#8c8c8c"/><stop offset="0.45" stop-color="#c8c8c8"/><stop offset="0.7" stop-color="#6e6e6e"/><stop offset="1" stop-color="#7a7a7a"/></linearGradient>
<linearGradient id="ldt" x1="0" y1="0" x2="1" y2="0"><stop offset="0" stop-color="#8a8a8a"/><stop offset="0.45" stop-color="#c2c2c2"/><stop offset="1" stop-color="#6a6a6a"/></linearGradient>
<polygon points="1042.7,721.2 1106.7,763.6 1106.7,773.3 1043.4,735.3" fill="url(#ldg)" stroke="#000" stroke-width="1" stroke-linejoin="round" />
<polygon points="1106.7,763.6 1117.9,762.9 1117.9,772.5 1106.7,773.3" fill="#707070" stroke="#000" stroke-width="1" stroke-linejoin="round" />
<polygon points="1117.9,762.9 1180.4,725.6 1180.4,735.3 1117.9,772.5" fill="#6c6c6c" stroke="#000" stroke-width="1" stroke-linejoin="round" />
<polygon points="1042.7,721.2 1044.4,716.7 1079.1,697.3 1164,717.4 1180.4,725.6 1117.9,762.9 1106.7,763.6" fill="url(#ldt)" stroke="#000" stroke-width="1" stroke-linejoin="round" />
<ellipse cx="1056.8" cy="719.7" rx="6" ry="3.6" fill="url(#hole)" stroke="#000" stroke-width="0.7" />
<ellipse cx="1114.6" cy="753.6" rx="6" ry="3.6" fill="url(#hole)" stroke="#000" stroke-width="0.7" />
<ellipse cx="1070.5" cy="728.2" rx="3.4" ry="2.1" fill="url(#hole)" stroke="#000" stroke-width="0.7" />
<ellipse cx="1099.7" cy="745.4" rx="3.4" ry="2.1" fill="url(#hole)" stroke="#000" stroke-width="0.7" />
<ellipse cx="1083.6" cy="719.4" rx="3.7" ry="2.2" fill="url(#hole)" stroke="#000" stroke-width="0.7" />
<ellipse cx="1112.4" cy="736.8" rx="3.7" ry="2.2" fill="url(#hole)" stroke="#000" stroke-width="0.7" />
<polygon points="1074.7,684.7 1137.2,659.4 1158.1,684.7 1136.5,742.8 1125.3,744.2 1110.4,732.3 1088.8,723.4 1074.7,711.5" fill="#5a5a5a" stroke="#000" stroke-width="1" stroke-linejoin="round" />
<polygon points="1075,689.1 1079.9,689.1 1080.9,714.5 1075.4,711.2" fill="#6e6e6e" stroke="#000" stroke-width="0.8" stroke-linejoin="round" />
<polygon points="1081.8,691.4 1087.8,694.4 1089,722.7 1082.4,717.7" fill="#6e6e6e" stroke="#000" stroke-width="0.8" stroke-linejoin="round" />
<polygon points="1090.3,698.8 1109.7,710 1110.7,731.6 1089.9,722.7" fill="#6e6e6e" stroke="#000" stroke-width="0.8" stroke-linejoin="round" />
<polygon points="1119.4,714.5 1134.2,711.5 1135.4,742.8 1119.8,736.8" fill="#6e6e6e" stroke="#000" stroke-width="0.8" stroke-linejoin="round" />
<line x1="1111.2" y1="710" x2="1111.9" y2="733.8" stroke="#000" stroke-width="0.7" />
<line x1="1113.4" y1="710" x2="1114.1" y2="733.8" stroke="#000" stroke-width="0.7" />
<line x1="1116.4" y1="710" x2="1117.1" y2="733.8" stroke="#000" stroke-width="0.7" />
<polygon points="1079.9,681 1125.3,653.4 1149.1,665.3 1153.6,689.1 1125.3,710 1113.4,702.5" fill="url(#ldt)" stroke="#000" stroke-width="1" stroke-linejoin="round" />
<polygon points="1079.9,681 1113.4,702.5 1113.4,710.3 1079.9,688.8" fill="#808080" stroke="#000" stroke-width="0.9" stroke-linejoin="round" />
<ellipse cx="1114.1" cy="684.1" rx="2" ry="1.4" fill="#666" stroke="#000" stroke-width="0.6" />
<polygon points="1110.4,659.4 1137.2,643 1161,648.9 1161,659.4 1134.2,674.3 1113.4,669.8" fill="#5c5c5c" stroke="#000" stroke-width="0.9" stroke-linejoin="round" />
<line x1="1116.4" y1="656.4" x2="1116.8" y2="672" stroke="#000" stroke-width="0.7" />
<line x1="1122.3" y1="656.4" x2="1122.8" y2="672" stroke="#000" stroke-width="0.7" />
<line x1="1128.3" y1="656.4" x2="1128.7" y2="672" stroke="#000" stroke-width="0.7" />
<line x1="1140.2" y1="656.4" x2="1140.6" y2="672" stroke="#000" stroke-width="0.7" />
<line x1="1149.1" y1="656.4" x2="1149.6" y2="672" stroke="#000" stroke-width="0.7" />
<polygon points="1153.6,723.4 1180.4,714.5 1202.7,705.5 1203.5,717.4 1180.4,730.8 1164.8,739 1154.3,737.5" fill="#6a6a6a" stroke="#000" stroke-width="1" stroke-linejoin="round" />
<polyline points="1180.4,714.5 1180.4,730.8" fill="none" stroke="#000" stroke-width="0.8" stroke-linejoin="round" stroke-linecap="round" />
<polyline points="1164.8,727.1 1164.8,739" fill="none" stroke="#000" stroke-width="0.8" stroke-linejoin="round" stroke-linecap="round" />
<polygon points="1153.6,723.4 1164.8,727.1 1180.4,717.4 1202.7,705.5 1193.8,699.6 1164,710" fill="#8a8a8a" stroke="#000" stroke-width="0.9" stroke-linejoin="round" />
<polygon points="1125.3,696.6 1147.6,683.2 1168.5,695.1 1165.5,705.5 1161,717.4 1143.2,727.9 1113.4,710" fill="#bdbdbd" stroke="#000" stroke-width="0.9" stroke-linejoin="round" />
<polygon points="1113.4,710 1143.2,727.9 1153.6,723.4 1153.6,729.4 1143.2,733.8 1113.4,714.5" fill="#777" stroke="#000" stroke-width="0.8" stroke-linejoin="round" />
<ellipse cx="1138" cy="694.8" rx="3.2" ry="2.2" fill="#999" stroke="#000" stroke-width="0.7" />
<ellipse cx="1159.6" cy="696.9" rx="3.2" ry="2.2" fill="#999" stroke="#000" stroke-width="0.7" />
<ellipse cx="1151.4" cy="702.2" rx="3.2" ry="2.2" fill="#999" stroke="#000" stroke-width="0.7" />
<polygon points="1113.4,705.5 1132.8,693.9 1138,696.6 1118.6,708.2" fill="#d0d0d0" stroke="#000" stroke-width="0.9" stroke-linejoin="round" />
<polygon points="1113.4,705.5 1118.6,708.2 1118.9,713 1113.7,710.3" fill="#8a8a8a" stroke="#000" stroke-width="0.8" stroke-linejoin="round" />
<polygon points="1118.6,708.2 1138,696.6 1138.3,701.1 1118.9,713" fill="#777" stroke="#000" stroke-width="0.8" stroke-linejoin="round" />
<polygon points="1125.3,711.5 1144.7,699.9 1149.9,702.5 1130.5,714.2" fill="#d0d0d0" stroke="#000" stroke-width="0.9" stroke-linejoin="round" />
<polygon points="1125.3,711.5 1130.5,714.2 1130.8,718.9 1125.6,716.2" fill="#8a8a8a" stroke="#000" stroke-width="0.8" stroke-linejoin="round" />
<polygon points="1130.5,714.2 1149.9,702.5 1150.2,707 1130.8,718.9" fill="#777" stroke="#000" stroke-width="0.8" stroke-linejoin="round" />
<polygon points="1137.2,717.9 1156.6,706.3 1161.8,709 1142.4,720.6" fill="#d0d0d0" stroke="#000" stroke-width="0.9" stroke-linejoin="round" />
<polygon points="1137.2,717.9 1142.4,720.6 1142.7,725.3 1137.5,722.7" fill="#8a8a8a" stroke="#000" stroke-width="0.8" stroke-linejoin="round" />
<polygon points="1142.4,720.6 1161.8,709 1162.1,713.4 1142.7,725.3" fill="#777" stroke="#000" stroke-width="0.8" stroke-linejoin="round" />
<polygon points="1128.3,684.7 1140.2,669 1164.8,653.4 1167.8,663.8 1158.1,677.2 1134.2,684.7 1129,692.9" fill="#6c6c6c" stroke="#000" stroke-width="1" stroke-linejoin="round" />
<polygon points="1123.8,683.2 1137.2,668.3 1140.5,669.8 1129,684.7 1128.6,693.3 1124.1,690.6" fill="#f0f0f0" stroke="#000" stroke-width="0.9" stroke-linejoin="round" />
<polygon points="1170,705.5 1180.4,692.9 1184.9,690.6 1201.3,683.2 1202.7,705.5 1180.4,714.5 1170.7,718.2 1164.8,715.2" fill="#666" stroke="#000" stroke-width="1" stroke-linejoin="round" />
<polygon points="1165.5,705.5 1177.4,692.9 1180.7,693.3 1170,706.3 1170,717.4 1165.2,714.5" fill="#f0f0f0" stroke="#000" stroke-width="0.9" stroke-linejoin="round" />
<polygon points="1159.6,675 1178.9,662.3 1201.3,674.3 1181.9,689.1" fill="#c8c8c8" stroke="#000" stroke-width="0.9" stroke-linejoin="round" />
<polygon points="1159.6,675 1181.9,689.1 1180.4,692.9 1158.1,678.7" fill="#888" stroke="#000" stroke-width="0.8" stroke-linejoin="round" />
<polygon points="1200.1,680.6 1156,659.1 1163.1,646 1202.5,619.8 1314.4,544.8 1362.1,525.7 1395.4,549.5 1391.9,561.4" fill="#6e6e6e" stroke="#000" stroke-width="0.9" stroke-linejoin="round" />
<polygon points="1156,659.1 1163.1,646 1202.5,619.8 1314.4,544.8 1318,550.7 1207.2,625.8 1169.1,652 1162.4,662.7" fill="#555" stroke="#000" stroke-width="0.8" stroke-linejoin="round" />
<polygon points="1183.4,683.9 1191.7,678.4 1153.7,654.4 1145.4,659.9" fill="#cdcdcd" stroke="#000" stroke-width="0.8" stroke-linejoin="round" />
<polygon points="1191.7,678.4 1194.2,676.8 1156.2,652.8 1153.7,654.4" fill="#8c8c8c" stroke="#000" stroke-width="0.8" stroke-linejoin="round" />
<polygon points="1204.1,670.3 1212.4,664.8 1174.4,640.8 1166.1,646.3" fill="#cdcdcd" stroke="#000" stroke-width="0.8" stroke-linejoin="round" />
<polygon points="1212.4,664.8 1214.8,663.2 1176.8,639.2 1174.4,640.8" fill="#8c8c8c" stroke="#000" stroke-width="0.8" stroke-linejoin="round" />
<polygon points="1224.8,656.8 1233.1,651.2 1195.1,627.2 1186.8,632.8" fill="#cdcdcd" stroke="#000" stroke-width="0.8" stroke-linejoin="round" />
<polygon points="1233.1,651.2 1235.5,649.6 1197.5,625.6 1195.1,627.2" fill="#8c8c8c" stroke="#000" stroke-width="0.8" stroke-linejoin="round" />
<polygon points="1244.9,643.4 1253.2,637.9 1215.2,613.9 1206.9,619.4" fill="#cdcdcd" stroke="#000" stroke-width="0.8" stroke-linejoin="round" />
<polygon points="1253.2,637.9 1255.7,636.2 1217.7,612.2 1215.2,613.9" fill="#8c8c8c" stroke="#000" stroke-width="0.8" stroke-linejoin="round" />
<polygon points="1264.9,630.1 1273.2,624.6 1235.2,600.6 1226.9,606.1" fill="#cdcdcd" stroke="#000" stroke-width="0.8" stroke-linejoin="round" />
<polygon points="1273.2,624.6 1275.7,622.9 1237.7,598.9 1235.2,600.6" fill="#8c8c8c" stroke="#000" stroke-width="0.8" stroke-linejoin="round" />
<polygon points="1285.1,616.6 1293.4,611.1 1255.4,587.1 1247.1,592.6" fill="#cdcdcd" stroke="#000" stroke-width="0.8" stroke-linejoin="round" />
<polygon points="1293.4,611.1 1295.9,609.4 1257.9,585.4 1255.4,587.1" fill="#8c8c8c" stroke="#000" stroke-width="0.8" stroke-linejoin="round" />
<polygon points="1306,602.5 1314.3,597.3 1276.3,573.3 1268,578.5" fill="#cdcdcd" stroke="#000" stroke-width="0.8" stroke-linejoin="round" />
<polygon points="1314.3,597.3 1316.8,595.7 1278.8,571.7 1276.3,573.3" fill="#8c8c8c" stroke="#000" stroke-width="0.8" stroke-linejoin="round" />
<polygon points="1325.4,590.3 1333.7,584.9 1295.7,560.9 1287.4,566.3" fill="#cdcdcd" stroke="#000" stroke-width="0.8" stroke-linejoin="round" />
<polygon points="1333.7,584.9 1336.2,583.3 1298.2,559.3 1295.7,560.9" fill="#8c8c8c" stroke="#000" stroke-width="0.8" stroke-linejoin="round" />
<polygon points="1344.9,578.1 1353.1,572 1315.1,548 1306.9,554.1" fill="#cdcdcd" stroke="#000" stroke-width="0.8" stroke-linejoin="round" />
<polygon points="1353.1,572 1355.6,570.1 1317.6,546.1 1315.1,548" fill="#8c8c8c" stroke="#000" stroke-width="0.8" stroke-linejoin="round" />
<polygon points="1186.9,681.4 1190.9,678.7 1194.1,676.7 1196.6,675.4 1198.2,674.7 1199.1,674.7 1199.8,674.9 1200.3,675.4 1200.6,676.1 1200.7,677 1200.8,678.9 1200.8,681.8 1200.8,685.6 1200.7,690.4 1200.2,694.3 1199.5,697.4 1198.4,699.5 1197,700.7 1195.6,702.1 1194.4,703.5 1193.3,705.1 1192.3,706.8 1191.2,708.1 1189.8,709.1 1188.3,709.8 1186.6,710.1 1185.1,710 1183.7,709.5 1182.4,708.5 1181.2,707 1180.3,705.3 1179.6,703.4 1179.2,701.3 1179.1,698.9 1179,696.8 1179,694.7 1179,692.9 1179.1,691.2 1179.3,689.7 1179.5,688.5 1179.9,687.4 1180.3,686.6 1181.6,685.3 1183.8,683.6" fill="#585858" stroke="#000" stroke-width="1" stroke-linejoin="round" />
<polygon points="1193.2,700.4 1197.3,697.2 1197.3,700.7 1194,703.2" fill="#444" stroke="#000" stroke-width="0.6" stroke-linejoin="round" />
<ellipse cx="1186.6" cy="697.8" rx="2.7" ry="3.7" fill="#808080" stroke="#000" stroke-width="0.8" transform="rotate(15 1186.6 697.8)" />
<polygon points="1207.6,667.7 1211.6,665.1 1214.8,663.1 1217.2,661.8 1218.9,661.1 1219.8,661.1 1220.4,661.4 1220.9,661.8 1221.2,662.6 1221.4,663.5 1221.4,665.4 1221.4,668.3 1221.4,672.1 1221.2,676.9 1220.8,680.8 1220,683.9 1218.9,686 1217.5,687.2 1216.2,688.6 1215,690 1213.9,691.6 1212.9,693.3 1211.7,694.6 1210.4,695.6 1208.8,696.3 1207.2,696.6 1205.6,696.4 1204.2,695.9 1202.9,694.9 1201.8,693.4 1200.9,691.7 1200.2,689.8 1199.8,687.6 1199.7,685.3 1199.6,683.1 1199.6,681.1 1199.6,679.2 1199.7,677.5 1199.9,676 1200.2,674.8 1200.5,673.7 1200.9,672.9 1202.3,671.6 1204.5,669.9" fill="#585858" stroke="#000" stroke-width="1" stroke-linejoin="round" />
<polygon points="1213.8,686.9 1217.9,683.7 1217.9,687.2 1214.6,689.7" fill="#444" stroke="#000" stroke-width="0.6" stroke-linejoin="round" />
<ellipse cx="1207.2" cy="684.2" rx="2.7" ry="3.7" fill="#808080" stroke="#000" stroke-width="0.8" transform="rotate(15 1207.2 684.2)" />
<polygon points="1228.3,654.2 1232.3,651.5 1235.5,649.5 1237.9,648.1 1239.6,647.5 1240.5,647.5 1241.1,647.7 1241.6,648.2 1242,648.9 1242.1,649.8 1242.2,651.7 1242.2,654.6 1242.2,658.4 1242.1,663.2 1241.6,667.1 1240.9,670.1 1239.8,672.2 1238.4,673.5 1237.1,674.8 1235.9,676.3 1234.8,677.9 1233.8,679.5 1232.6,680.9 1231.2,681.9 1229.7,682.6 1228.1,682.9 1226.5,682.8 1225.1,682.3 1223.8,681.3 1222.6,679.8 1221.7,678.1 1221,676.2 1220.6,674.1 1220.5,671.8 1220.4,669.6 1220.3,667.6 1220.4,665.7 1220.5,664 1220.6,662.6 1220.9,661.3 1221.2,660.3 1221.6,659.4 1223,658.2 1225.2,656.4" fill="#585858" stroke="#000" stroke-width="1" stroke-linejoin="round" />
<polygon points="1234.6,673.2 1238.8,670 1238.7,673.5 1235.4,676" fill="#444" stroke="#000" stroke-width="0.6" stroke-linejoin="round" />
<ellipse cx="1228" cy="670.6" rx="2.7" ry="3.7" fill="#808080" stroke="#000" stroke-width="0.8" transform="rotate(15 1228 670.6)" />
<polygon points="1248.5,640.8 1252.5,638.1 1255.7,636.1 1258.1,634.7 1259.8,634.1 1260.6,634.1 1261.3,634.3 1261.8,634.8 1262.2,635.5 1262.3,636.4 1262.4,638.3 1262.4,641.1 1262.4,645 1262.3,649.8 1261.8,653.7 1261.1,656.7 1260,658.8 1258.6,660 1257.3,661.4 1256.1,662.9 1255,664.4 1254,666.1 1252.8,667.5 1251.5,668.5 1250,669.2 1248.3,669.5 1246.7,669.4 1245.3,668.9 1244,667.9 1242.8,666.4 1241.9,664.7 1241.2,662.9 1240.8,660.7 1240.7,658.4 1240.6,656.2 1240.5,654.2 1240.6,652.3 1240.6,650.7 1240.8,649.2 1241.1,647.9 1241.4,646.9 1241.8,646.1 1243.1,644.8 1245.3,643" fill="#585858" stroke="#000" stroke-width="1" stroke-linejoin="round" />
<polygon points="1254.8,659.8 1259,656.5 1259,660 1255.6,662.6" fill="#444" stroke="#000" stroke-width="0.6" stroke-linejoin="round" />
<ellipse cx="1248.2" cy="657.2" rx="2.7" ry="3.7" fill="#808080" stroke="#000" stroke-width="0.8" transform="rotate(15 1248.2 657.2)" />
<polygon points="1268.4,627.5 1272.4,624.8 1275.6,622.8 1278.1,621.4 1279.7,620.8 1280.6,620.7 1281.3,621 1281.8,621.4 1282.1,622.1 1282.3,623.1 1282.4,625 1282.4,627.8 1282.4,631.6 1282.3,636.4 1281.8,640.3 1281.1,643.3 1280,645.5 1278.6,646.7 1277.3,648.1 1276.1,649.5 1275,651.1 1274,652.8 1272.8,654.1 1271.5,655.2 1270,655.8 1268.3,656.2 1266.7,656.1 1265.3,655.6 1264,654.6 1262.8,653.1 1261.9,651.5 1261.2,649.6 1260.8,647.5 1260.7,645.1 1260.5,642.9 1260.5,640.9 1260.5,639.1 1260.6,637.4 1260.8,635.9 1261,634.7 1261.4,633.6 1261.8,632.8 1263.1,631.5 1265.3,629.8" fill="#585858" stroke="#000" stroke-width="1" stroke-linejoin="round" />
<polygon points="1274.8,646.5 1279,643.2 1279,646.7 1275.7,649.2" fill="#444" stroke="#000" stroke-width="0.6" stroke-linejoin="round" />
<ellipse cx="1268.2" cy="643.9" rx="2.7" ry="3.7" fill="#808080" stroke="#000" stroke-width="0.8" transform="rotate(15 1268.2 643.9)" />
<polygon points="1288.6,614 1292.6,611.3 1295.8,609.3 1298.3,607.9 1299.9,607.3 1300.8,607.2 1301.5,607.5 1302,607.9 1302.3,608.6 1302.5,609.6 1302.6,611.5 1302.6,614.3 1302.6,618.1 1302.5,622.9 1302,626.8 1301.3,629.8 1300.2,632 1298.8,633.2 1297.5,634.6 1296.3,636 1295.2,637.6 1294.2,639.3 1293,640.6 1291.7,641.7 1290.2,642.3 1288.5,642.7 1286.9,642.6 1285.5,642.1 1284.2,641.1 1283,639.6 1282.1,638 1281.4,636.1 1281,634 1280.9,631.6 1280.7,629.4 1280.7,627.4 1280.7,625.6 1280.8,623.9 1281,622.4 1281.2,621.2 1281.6,620.1 1282,619.3 1283.3,618 1285.5,616.3" fill="#585858" stroke="#000" stroke-width="1" stroke-linejoin="round" />
<polygon points="1295,633 1299.2,629.7 1299.2,633.2 1295.9,635.7" fill="#444" stroke="#000" stroke-width="0.6" stroke-linejoin="round" />
<ellipse cx="1288.4" cy="630.4" rx="2.7" ry="3.7" fill="#808080" stroke="#000" stroke-width="0.8" transform="rotate(15 1288.4 630.4)" />
<polygon points="1309.5,600.1 1313.5,597.5 1316.7,595.6 1319.2,594.3 1320.8,593.7 1321.7,593.8 1322.3,594 1322.8,594.5 1323.1,595.2 1323.2,596.2 1323.3,598.1 1323.2,601 1323.1,604.9 1322.9,609.7 1322.4,613.7 1321.6,616.7 1320.5,618.8 1319.1,620 1317.7,621.3 1316.5,622.8 1315.4,624.3 1314.4,626 1313.2,627.3 1311.9,628.3 1310.4,628.9 1308.7,629.2 1307.2,629 1305.8,628.4 1304.5,627.3 1303.4,625.8 1302.5,624.1 1301.9,622.1 1301.6,620 1301.4,617.6 1301.4,615.4 1301.4,613.3 1301.5,611.5 1301.6,609.7 1301.8,608.3 1302.1,607 1302.4,606 1302.9,605.1 1304.2,603.9 1306.4,602.2" fill="#585858" stroke="#000" stroke-width="1" stroke-linejoin="round" />
<polygon points="1315.4,619.6 1319.5,616.5 1319.4,620 1316.1,622.4" fill="#444" stroke="#000" stroke-width="0.6" stroke-linejoin="round" />
<ellipse cx="1308.9" cy="616.7" rx="2.7" ry="3.7" fill="#808080" stroke="#000" stroke-width="0.8" transform="rotate(15 1308.9 616.7)" />
<polygon points="1329,587.8 1333,585.2 1336.2,583.2 1338.6,581.9 1340.3,581.3 1341.1,581.3 1341.8,581.5 1342.3,582 1342.6,582.7 1342.7,583.6 1342.8,585.6 1342.8,588.4 1342.7,592.3 1342.5,597.1 1342.1,601.1 1341.3,604.1 1340.2,606.2 1338.8,607.4 1337.4,608.7 1336.2,610.2 1335.1,611.8 1334.1,613.4 1332.9,614.8 1331.6,615.8 1330.1,616.4 1328.4,616.7 1326.9,616.6 1325.5,616 1324.2,614.9 1323,613.5 1322.2,611.8 1321.5,609.8 1321.1,607.7 1321,605.3 1320.9,603.1 1320.9,601.1 1321,599.2 1321.1,597.5 1321.3,596.1 1321.5,594.8 1321.9,593.8 1322.3,592.9 1323.6,591.7 1325.8,589.9" fill="#585858" stroke="#000" stroke-width="1" stroke-linejoin="round" />
<polygon points="1335,607.1 1339.2,603.9 1339.1,607.4 1335.8,609.9" fill="#444" stroke="#000" stroke-width="0.6" stroke-linejoin="round" />
<ellipse cx="1328.5" cy="604.3" rx="2.7" ry="3.7" fill="#808080" stroke="#000" stroke-width="0.8" transform="rotate(15 1328.5 604.3)" />
<polygon points="1348.4,575.2 1352.4,572.3 1355.6,570 1358,568.5 1359.7,567.7 1360.6,567.6 1361.3,567.8 1361.9,568.2 1362.2,568.8 1362.4,569.7 1362.6,571.5 1362.8,574.3 1362.9,578 1363,582.6 1362.8,586.4 1362.2,589.4 1361.1,591.6 1359.7,592.9 1358.5,594.3 1357.3,595.8 1356.2,597.5 1355.3,599.2 1354.1,600.6 1352.8,601.7 1351.3,602.5 1349.6,603 1348,603 1346.5,602.6 1345.1,601.8 1343.8,600.5 1342.8,599 1342,597.2 1341.5,595.2 1341.2,593 1341,590.9 1340.8,588.9 1340.8,587.1 1340.8,585.5 1340.9,584.1 1341.1,582.8 1341.4,581.8 1341.8,580.9 1343.1,579.6 1345.3,577.7" fill="#585858" stroke="#000" stroke-width="1" stroke-linejoin="round" />
<polygon points="1355.8,593 1360,589.5 1360.1,592.8 1356.8,595.6" fill="#444" stroke="#000" stroke-width="0.6" stroke-linejoin="round" />
<ellipse cx="1348.9" cy="591.1" rx="2.7" ry="3.7" fill="#808080" stroke="#000" stroke-width="0.8" transform="rotate(15 1348.9 591.1)" />
<linearGradient id="earg" x1="0" y1="0" x2="1" y2="0"><stop offset="0" stop-color="#8a8a8a"/><stop offset="0.4" stop-color="#c4c4c4"/><stop offset="1" stop-color="#808080"/></linearGradient>
<polygon points="1025.5,501.5 1036,498 1048.8,505.8 1239.4,611.6 1251.3,609.6 1313,574.5 1313,545 1225,497 1100,475 1050,480" fill="#cdcdcd" stroke="#000" stroke-width="1" stroke-linejoin="round" />
<polygon points="1025.5,501.5 1036,502 1048.8,505.8 1048.8,516.7 1036,514.5 1025.5,511" fill="url(#earg)" stroke="#000" stroke-width="1" stroke-linejoin="round" />
<polygon points="1048.8,505.8 1239.4,611.6 1240,624 1048.8,516.7" fill="#a2a2a2" stroke="#000" stroke-width="1" stroke-linejoin="round" />
<polygon points="1239.4,611.6 1251.3,609.6 1252,622 1240,624" fill="#8e8e8e" stroke="#000" stroke-width="1" stroke-linejoin="round" />
<polygon points="1251.3,609.6 1313,574.5 1313,586 1252,622" fill="#8a8a8a" stroke="#000" stroke-width="1" stroke-linejoin="round" />
<path d="M1150 553 L1160 560 Q1185 562 1222 528 L1222 520 Z" fill="#555" stroke-linejoin="round" opacity="0.55"/>
<ellipse cx="1177" cy="552.7" rx="8" ry="4.5" fill="#bdbdbd" stroke="#000" stroke-width="0.8" />
<ellipse cx="1202" cy="536" rx="8" ry="4.5" fill="#bdbdbd" stroke="#000" stroke-width="0.8" />
<ellipse cx="1168.7" cy="568.3" rx="2.4" ry="1.6" fill="#ddd" stroke="#000" stroke-width="0.7" />
<ellipse cx="1228.7" cy="529.3" rx="2.4" ry="1.6" fill="#ddd" stroke="#000" stroke-width="0.7" />
<polygon points="1182,572.5 1243,608.5 1243,611 1182,575" fill="#666" stroke="#000" stroke-width="0.7" stroke-linejoin="round" />
<polygon points="1182,572.5 1237,536.5 1309,571.5 1251.5,607.5 1243,608.5" fill="#d4d4d4" stroke="#000" stroke-width="1" stroke-linejoin="round" />
<ellipse cx="1236.4" cy="576.9" rx="2.4" ry="1.6" fill="#bbb" stroke="#000" stroke-width="0.8" />
<ellipse cx="1252.9" cy="566.3" rx="2.4" ry="1.6" fill="#bbb" stroke="#000" stroke-width="0.8" />
<linearGradient id="m3g" x1="0" y1="0" x2="0" y2="1"><stop offset="0" stop-color="#f03038"/><stop offset="0.55" stop-color="#d02a32"/><stop offset="1" stop-color="#7e1c20"/></linearGradient>
<polygon points="1212,461.7 1219.6,468.6 1248.4,493.9 1243.4,499.4 1243,533 1219.6,519" fill="url(#m3g)" stroke="#000" stroke-width="1" stroke-linejoin="round" />
<polygon points="1212,462.1 1260.3,428.9 1315.9,458.1 1281.1,474 1248.4,493.9 1219.6,468.6" fill="#ff3038" stroke="#000" stroke-width="1" stroke-linejoin="round" />
<polyline points="1219.6,468.6 1225.5,462.1 1263.3,481.6" fill="none" stroke="#000" stroke-width="0.9" stroke-linejoin="round" stroke-linecap="round" />
<polyline points="1225.5,462.1 1228.5,452.8 1281.1,479.6" fill="none" stroke="#000" stroke-width="0.9" stroke-linejoin="round" stroke-linecap="round" />
<polyline points="1228.5,452.8 1260.3,431.9" fill="none" stroke="#000" stroke-width="0.8" stroke-linejoin="round" stroke-linecap="round" />
<polyline points="1259.3,477.6 1298,452.8 1305,456.7" fill="none" stroke="#000" stroke-width="0.9" stroke-linejoin="round" stroke-linecap="round" />
<line x1="1261.3" y1="477.6" x2="1299" y2="453.8" stroke="#400" stroke-width="2" stroke-dasharray="0.8 0.8"/>
<polyline points="1265.2,483.1 1306.9,456.7" fill="none" stroke="#000" stroke-width="0.8" stroke-linejoin="round" stroke-linecap="round" />
<ellipse cx="1302.6" cy="462.7" rx="2.8" ry="1.9" fill="#a01e24" stroke="#000" stroke-width="0.8" />
<ellipse cx="1217.6" cy="466.1" rx="1.8" ry="2.4" fill="#d83a40" stroke="#000" stroke-width="0.7" />
<polyline points="1219.6,503.4 1242.4,515.3" fill="none" stroke="#000" stroke-width="0.8" stroke-linejoin="round" stroke-linecap="round" />
<polyline points="1219.6,513.3 1242.4,527.2" fill="none" stroke="#000" stroke-width="0.8" stroke-linejoin="round" stroke-linecap="round" />
<polygon points="1225.5,510.3 1243.4,520.3 1243,531.2 1236.4,528.2 1236.4,523.3 1225.5,517.3" fill="#b4242a" stroke="#000" stroke-width="0.9" stroke-linejoin="round" />
<polygon points="1038.8,444.7 1046.8,450 1045.9,501 1037.9,497.9" fill="#b6b6b6" stroke="#000" stroke-width="1" stroke-linejoin="round" />
<polygon points="1098.6,405 1111.5,408 1111.5,419.7 1098.6,417.9" fill="#555" stroke="#000" stroke-width="1" stroke-linejoin="round" />
<polygon points="1038.8,444.7 1098.6,405 1111.5,408 1048.6,448.2" fill="#c9c9c9" stroke="#000" stroke-width="1" stroke-linejoin="round" />
<polygon points="1048.6,448.2 1097.7,418.8 1162.1,441.5 1216.6,470.6 1157.6,505.8" fill="#d2d2d2" stroke="#000" stroke-width="1" stroke-linejoin="round" />
<linearGradient id="m2s" x1="0" y1="0" x2="0" y2="1"><stop offset="0" stop-color="#b8b8b8"/><stop offset="1" stop-color="#9a9a9a"/></linearGradient>
<polygon points="1048.6,448.2 1157.6,505.8 1153.1,554 1046.8,497.9" fill="url(#m2s)" stroke="#000" stroke-width="1" stroke-linejoin="round" />
<polygon points="1048.6,448.2 1157.6,505.8 1157.2,511.2 1048.2,453.6" fill="#cfcfcf" stroke="#000" stroke-width="0.9" stroke-linejoin="round" />
<polyline points="1048.2,456.3 1156.9,514.4" fill="none" stroke="#000" stroke-width="0.7" stroke-linejoin="round" stroke-linecap="round" />
<polyline points="1047.2,494.7 1153.5,551" fill="none" stroke="#000" stroke-width="0.7" stroke-linejoin="round" stroke-linecap="round" />
<path d="M1161.2 505.1 L1213.9 472.9 Q1218.7 470.6 1218.9 476.8 L1218.4 523.3 Q1218.4 526 1214.8 528.3 L1163 558.1 Q1157.6 560.8 1153.5 554 L1155.8 509.9 Z" fill="#5f5f5f" stroke="#000" stroke-width="1" stroke-linejoin="round" />
<polyline points="1157.6,505.8 1155.8,509.9 1153.5,554" fill="none" stroke="#000" stroke-width="0.8" stroke-linejoin="round" stroke-linecap="round" />
<ellipse cx="1163" cy="511.2" rx="2.6" ry="3.6" fill="#4a4a4a" stroke="#000" stroke-width="0.8" transform="rotate(-25 1163 511.2)" />
<ellipse cx="1163" cy="511.2" rx="1.4" ry="2" fill="#666" stroke="#000" stroke-width="0.6" transform="rotate(-25 1163 511.2)" />
<ellipse cx="1213.9" cy="478.6" rx="2.6" ry="3.6" fill="#4a4a4a" stroke="#000" stroke-width="0.8" transform="rotate(-25 1213.9 478.6)" />
<ellipse cx="1213.9" cy="478.6" rx="1.4" ry="2" fill="#666" stroke="#000" stroke-width="0.6" transform="rotate(-25 1213.9 478.6)" />
<ellipse cx="1211.6" cy="517" rx="2.6" ry="3.6" fill="#4a4a4a" stroke="#000" stroke-width="0.8" transform="rotate(-25 1211.6 517)" />
<ellipse cx="1211.6" cy="517" rx="1.4" ry="2" fill="#666" stroke="#000" stroke-width="0.6" transform="rotate(-25 1211.6 517)" />
<ellipse cx="1160.3" cy="549.2" rx="2.6" ry="3.6" fill="#4a4a4a" stroke="#000" stroke-width="0.8" transform="rotate(-25 1160.3 549.2)" />
<ellipse cx="1160.3" cy="549.2" rx="1.4" ry="2" fill="#666" stroke="#000" stroke-width="0.6" transform="rotate(-25 1160.3 549.2)" />
<polygon points="1171.9,523.3 1205,502.8 1209.4,507.2 1207.6,514.4 1177.3,532.2 1171,529.6" fill="#444" stroke="#000" stroke-width="0.9" stroke-linejoin="round" />
<polygon points="1167.4,523.3 1171.9,520.6 1176.4,525.1 1175.5,531.3 1171.5,533.1 1168,529.6" fill="#777" stroke="#000" stroke-width="0.9" stroke-linejoin="round" />
<polygon points="1203.2,502.8 1207.3,500.1 1212.1,504.5 1211.2,509.9 1207.6,512.2 1204.1,508.1" fill="#777" stroke="#000" stroke-width="0.9" stroke-linejoin="round" />
<polyline points="1178.1,518.8 1200.5,505.4" fill="none" stroke="#7af" stroke-width="1.2" stroke-linejoin="round" stroke-linecap="round" stroke-dasharray="1.2 2.2"/>
<polygon points="1073.6,442.9 1104,425 1139.7,442.9 1109.3,461.7" fill="#d6d6d6" stroke="#000" stroke-width="0.9" stroke-linejoin="round" />
<polygon points="1109.3,461.7 1139.7,442.9 1148.7,447.4 1119.2,468.8" fill="#c6c6c6" stroke="#000" stroke-width="0.9" stroke-linejoin="round" />
<polyline points="1060.7,440.7 1073.6,442.9" fill="none" stroke="#000" stroke-width="0.7" stroke-linejoin="round" stroke-linecap="round" />
<polyline points="1127.2,463.4 1163,442 1168.3,444.7 1134.4,466.1" fill="none" stroke="#000" stroke-width="0.8" stroke-linejoin="round" stroke-linecap="round" />
<polyline points="1062.9,444.7 1177.3,489.3" fill="none" stroke="#000" stroke-width="0.7" stroke-linejoin="round" stroke-linecap="round" />
<line x1="1064.7" y1="443.8" x2="1175.5" y2="486.7" stroke="#333" stroke-width="1.8" stroke-dasharray="0.8 0.9"/>
<line x1="1163" y1="441.5" x2="1216.6" y2="470.6" stroke="#222" stroke-width="1.8" stroke-dasharray="0.8 0.9"/>
<polyline points="1177.3,489.3 1216.6,470.6" fill="none" stroke="#000" stroke-width="0.6" stroke-linejoin="round" stroke-linecap="round" />
<ellipse cx="1132.9" cy="478.1" rx="4.2" ry="2.8" fill="#666" stroke="#000" stroke-width="0.8" />
<ellipse cx="1132.9" cy="478.1" rx="2.2" ry="1.5" fill="#999" stroke="#000" stroke-width="0.5" />
<ellipse cx="1158.5" cy="492" rx="4.2" ry="2.8" fill="#666" stroke="#000" stroke-width="0.8" />
<ellipse cx="1158.5" cy="492" rx="2.2" ry="1.5" fill="#999" stroke="#000" stroke-width="0.5" />
<linearGradient id="cvg" x1="0" y1="0" x2="1" y2="1"><stop offset="0" stop-color="#b4b4b4"/><stop offset="0.4" stop-color="#7c7c7c"/><stop offset="0.7" stop-color="#c4c4c4"/><stop offset="1" stop-color="#5c5c5c"/></linearGradient>
<polygon points="1353.7,507.4 1379.9,492.1 1397.4,494.3 1406.1,511.8 1397.4,538 1379.9,559.9 1362.4,573 1342.7,586.1 1318.7,570.8 1316.5,544.6 1340.5,522.7" fill="url(#cvg)" stroke="#000" stroke-width="0.9" stroke-linejoin="round" />
<polygon points="1353.7,510.7 1390.8,528.2 1388.6,534.8 1351.5,516.2" fill="#5a5a5a" stroke="#000" stroke-width="0.7" stroke-linejoin="round" />
<polygon points="1342.7,528.2 1382.1,549 1379.9,554.4 1339.5,533.7" fill="#5a5a5a" stroke="#000" stroke-width="0.7" stroke-linejoin="round" />
<polygon points="1327.4,542.4 1371.1,565.4 1367.9,570.8 1324.2,549" fill="#5a5a5a" stroke="#000" stroke-width="0.7" stroke-linejoin="round" />
<polygon points="1373.3,495.4 1397.4,507.4 1396.3,514 1371.1,500.9" fill="#5a5a5a" stroke="#000" stroke-width="0.7" stroke-linejoin="round" />
<polygon points="1338.4,549 1366.8,563.2 1365.7,565.4 1337.3,551.1" fill="#fff" stroke="#000" stroke-width="0.6" stroke-linejoin="round" />
<polygon points="1366.5,562 1370.5,558.4 1373.6,555.6 1376.1,553.7 1377.8,552.6 1378.7,552.3 1379.5,552.3 1380.1,552.5 1380.6,553 1380.9,553.8 1381.3,555.4 1381.8,557.9 1382.4,561.2 1383.1,565.4 1383.3,568.9 1383,571.8 1382.1,574 1380.8,575.5 1379.6,577.1 1378.5,578.7 1377.6,580.4 1376.8,582.2 1375.7,583.8 1374.4,585.1 1372.9,586.1 1371.1,587 1369.4,587.4 1367.8,587.3 1366.2,586.9 1364.7,586 1363.4,584.8 1362.3,583.4 1361.5,581.7 1361,579.7 1360.5,577.9 1360.1,576.1 1359.9,574.5 1359.7,573 1359.6,571.7 1359.7,570.5 1359.9,569.5 1360.2,568.7 1361.4,567.1 1363.5,564.9" fill="#585858" stroke="#000" stroke-width="1" stroke-linejoin="round" />
<polygon points="1376.7,576.5 1380.6,572.3 1381.2,575.4 1378,578.6" fill="#444" stroke="#000" stroke-width="0.6" stroke-linejoin="round" />
<ellipse cx="1369" cy="576.3" rx="2.7" ry="3.7" fill="#808080" stroke="#000" stroke-width="0.8" transform="rotate(15 1369 576.3)" />
<polygon points="1379.7,551.8 1382.8,546.7 1385.4,542.6 1387.4,539.5 1388.9,537.6 1389.9,536.7 1390.8,536.1 1391.6,535.8 1392.3,535.8 1393,536 1394.1,536.7 1395.6,537.8 1397.6,539.5 1400,541.5 1401.6,543.6 1402.4,545.6 1402.3,547.5 1401.4,549.5 1400.6,551.3 1400.1,553.2 1399.7,554.9 1399.4,556.6 1398.8,558.4 1397.9,560.1 1396.5,561.9 1394.8,563.8 1393,565.3 1391.1,566.5 1389.1,567.4 1387.1,568 1385.1,568.3 1383.4,568.2 1381.8,567.7 1380.4,566.9 1379.1,566.1 1378,565.3 1377,564.5 1376.2,563.8 1375.6,563 1375.3,562.2 1375.1,561.4 1375.1,560.7 1375.9,558.8 1377.4,555.9" fill="#585858" stroke="#000" stroke-width="1" stroke-linejoin="round" />
<polygon points="1397,553.2 1399.9,547.6 1401.8,549.1 1399.4,553.5" fill="#444" stroke="#000" stroke-width="0.6" stroke-linejoin="round" />
<ellipse cx="1388.2" cy="558.8" rx="2.7" ry="3.7" fill="#808080" stroke="#000" stroke-width="0.8" transform="rotate(15 1388.2 558.8)" />
<polygon points="1391.8,533.6 1393.5,528.1 1394.9,523.6 1396.2,520.3 1397.2,517.9 1398,516.7 1398.8,515.7 1399.6,514.9 1400.5,514.4 1401.3,514.1 1402.8,513.9 1405,513.6 1407.8,513.4 1411.3,513.1 1413.9,513.4 1415.4,514.2 1416,515.6 1415.7,517.5 1415.5,519.3 1415.4,520.9 1415.6,522.3 1416,523.6 1415.9,525.2 1415.4,527 1414.5,529.1 1413.2,531.5 1411.7,533.7 1410,535.8 1408,537.7 1405.8,539.5 1403.7,541 1401.7,542.1 1399.7,542.9 1397.8,543.3 1396.1,543.6 1394.5,543.8 1393.2,543.9 1392,543.9 1391,543.8 1390.3,543.6 1389.9,543.2 1389.6,542.6 1389.9,540.9 1390.6,537.8" fill="#585858" stroke="#000" stroke-width="1" stroke-linejoin="round" />
<polygon points="1412,522.9 1413.4,517.3 1416,517 1414.8,521.5" fill="#444" stroke="#000" stroke-width="0.6" stroke-linejoin="round" />
<ellipse cx="1403.9" cy="532.6" rx="2.7" ry="3.7" fill="#808080" stroke="#000" stroke-width="0.8" transform="rotate(15 1403.9 532.6)" />
<polygon points="1399.3,515.2 1398.7,510.9 1398.4,507.2 1398.3,504.4 1398.4,502.3 1398.7,500.9 1399.2,499.7 1399.8,498.6 1400.5,497.6 1401.3,496.7 1402.9,495.3 1405.2,493.2 1408.4,490.6 1412.3,487.4 1415.3,485.4 1417.5,484.5 1418.8,484.7 1419.2,486 1419.8,487.1 1420.5,488 1421.4,488.6 1422.4,489 1423,489.9 1423.3,491.2 1423.2,493.1 1422.8,495.5 1422.1,498 1421.1,500.6 1419.8,503.3 1418.1,506.2 1416.4,508.8 1414.5,511.1 1412.6,513.3 1410.6,515.1 1408.8,516.8 1407.1,518.3 1405.6,519.5 1404.3,520.5 1403.1,521.3 1402.2,521.8 1401.5,522 1401,521.9 1400.5,520.8 1399.9,518.5" fill="#585858" stroke="#000" stroke-width="1" stroke-linejoin="round" />
<polygon points="1417.5,492.1 1416.5,487.9 1419.4,485.4 1420.1,488.9" fill="#444" stroke="#000" stroke-width="0.6" stroke-linejoin="round" />
<ellipse cx="1412.7" cy="504.2" rx="2.7" ry="3.7" fill="#808080" stroke="#000" stroke-width="0.8" transform="rotate(15 1412.7 504.2)" />
<polygon points="1399.7,500.8 1397,498.9 1395,497.2 1393.6,495.8 1392.8,494.6 1392.6,493.5 1392.5,492.5 1392.7,491.4 1393.1,490.2 1393.6,489.1 1394.8,486.9 1396.6,483.8 1399,479.7 1402,474.7 1404.5,471 1406.6,468.7 1408.2,467.7 1409.3,468 1410.5,468.1 1411.7,468 1412.9,467.6 1414.2,466.9 1415.3,466.9 1416.3,467.4 1417.1,468.4 1417.7,470.1 1418,472 1418,474.3 1417.7,476.9 1417,479.9 1416.2,482.8 1415.2,485.6 1414,488.4 1412.5,491.1 1411.2,493.5 1410,495.7 1408.8,497.7 1407.7,499.4 1406.8,500.8 1405.9,501.8 1405.2,502.6 1404.6,503 1403.4,502.8 1401.8,502.1" fill="#585858" stroke="#000" stroke-width="1" stroke-linejoin="round" />
<polygon points="1410,472.7 1407,471.3 1409.2,467.6 1411.6,468.8" fill="#444" stroke="#000" stroke-width="0.6" stroke-linejoin="round" />
<ellipse cx="1410" cy="483.4" rx="2.7" ry="3.7" fill="#808080" stroke="#000" stroke-width="0.8" transform="rotate(15 1410 483.4)" />
<polygon points="1393.6,492.8 1389.8,494 1386.7,494.8 1384.5,495.1 1383,495.1 1382.3,494.7 1381.8,494.2 1381.5,493.4 1381.4,492.5 1381.6,491.4 1382,489.2 1382.6,486 1383.6,481.7 1384.8,476.4 1386.1,472.3 1387.5,469.2 1388.8,467.4 1390.3,466.6 1391.6,465.7 1392.9,464.6 1394.2,463.4 1395.4,461.9 1396.6,461 1398,460.5 1399.3,460.4 1400.7,460.8 1401.9,461.6 1402.9,462.9 1403.7,464.6 1404.3,466.8 1404.6,469.1 1404.7,471.5 1404.5,474.1 1404.1,476.8 1403.6,479.2 1403.2,481.5 1402.7,483.6 1402.2,485.4 1401.7,487 1401.2,488.3 1400.7,489.3 1400.2,490 1398.8,490.8 1396.6,491.8" fill="#585858" stroke="#000" stroke-width="1" stroke-linejoin="round" />
<polygon points="1393.2,468.6 1389.1,470.4 1390,466.4 1393.2,465.2" fill="#444" stroke="#000" stroke-width="0.6" stroke-linejoin="round" />
<ellipse cx="1397.8" cy="474.6" rx="2.7" ry="3.7" fill="#808080" stroke="#000" stroke-width="0.8" transform="rotate(15 1397.8 474.6)" />
<polygon points="1378.8,496.6 1374.8,499.2 1371.6,501.2 1369.1,502.5 1367.5,503.2 1366.6,503.2 1365.9,502.9 1365.4,502.4 1365.1,501.7 1365,500.8 1364.9,498.9 1364.9,496 1365,492.2 1365.2,487.3 1365.6,483.4 1366.4,480.4 1367.5,478.3 1368.9,477.1 1370.2,475.7 1371.4,474.3 1372.5,472.7 1373.6,471 1374.7,469.7 1376.1,468.7 1377.6,468 1379.2,467.7 1380.8,467.8 1382.2,468.4 1383.5,469.4 1384.6,470.9 1385.5,472.6 1386.2,474.5 1386.6,476.7 1386.7,479 1386.8,481.2 1386.8,483.3 1386.8,485.1 1386.6,486.8 1386.5,488.3 1386.2,489.5 1385.9,490.6 1385.4,491.4 1384.1,492.7 1381.9,494.4" fill="#585858" stroke="#000" stroke-width="1" stroke-linejoin="round" />
<polygon points="1372.6,477.4 1368.5,480.6 1368.5,477 1371.9,474.6" fill="#444" stroke="#000" stroke-width="0.6" stroke-linejoin="round" />
<ellipse cx="1379.2" cy="480.1" rx="2.7" ry="3.7" fill="#808080" stroke="#000" stroke-width="0.8" transform="rotate(15 1379.2 480.1)" />
<polygon points="1358.7,509.7 1354.7,512.3 1351.5,514.3 1349,515.6 1347.4,516.3 1346.5,516.3 1345.8,516 1345.3,515.5 1345,514.8 1344.9,513.9 1344.8,512 1344.8,509.1 1344.9,505.3 1345.1,500.4 1345.5,496.5 1346.3,493.5 1347.4,491.4 1348.8,490.2 1350.1,488.8 1351.3,487.4 1352.4,485.8 1353.5,484.1 1354.6,482.8 1356,481.8 1357.5,481.1 1359.1,480.8 1360.7,480.9 1362.1,481.5 1363.4,482.5 1364.5,484 1365.4,485.7 1366.1,487.6 1366.5,489.8 1366.6,492.1 1366.7,494.3 1366.7,496.4 1366.7,498.2 1366.5,499.9 1366.4,501.4 1366.1,502.6 1365.8,503.7 1365.3,504.5 1364,505.8 1361.8,507.5" fill="#585858" stroke="#000" stroke-width="1" stroke-linejoin="round" />
<polygon points="1352.5,490.5 1348.4,493.7 1348.4,490.1 1351.8,487.7" fill="#444" stroke="#000" stroke-width="0.6" stroke-linejoin="round" />
<ellipse cx="1359.1" cy="493.2" rx="2.7" ry="3.7" fill="#808080" stroke="#000" stroke-width="0.8" transform="rotate(15 1359.1 493.2)" />
<linearGradient id="brg" x1="0" y1="0" x2="1" y2="0"><stop offset="0" stop-color="#c0c0c0"/><stop offset="0.2" stop-color="#a2a2a2"/><stop offset="0.8" stop-color="#aeaeae"/><stop offset="1" stop-color="#e4e4e4"/></linearGradient>
<polygon points="1313.9,537.2 1341.7,520.3 1338.7,528.2 1318.9,547.1 1312.9,568.9" fill="#f2f2f2" stroke="#000" stroke-width="1" stroke-linejoin="round" />
<polygon points="1243.4,499.4 1313.9,537.2 1312.9,568.9 1242.4,532.2" fill="url(#brg)" stroke="#000" stroke-width="1" stroke-linejoin="round" />
<polygon points="1243.4,499.4 1248.4,493.9 1282.1,473.2 1344.7,505.4 1313.9,537.2" fill="#cfcfcf" stroke="#000" stroke-width="1" stroke-linejoin="round" />
<ellipse cx="1274.6" cy="488.5" rx="1.8" ry="1.3" fill="#777" stroke="#000" stroke-width="0.6" />
<polygon points="1322,453.9 1343.8,440.1 1367.9,438.6 1402.8,457.6 1393,463.7 1379.9,466.3 1367.9,474.6 1362.4,485.6 1330.7,467" fill="#cfcfcf" stroke="#000" stroke-width="1" stroke-linejoin="round" />
<polygon points="1367.9,438.6 1402.8,457.6 1393,463.7 1359.1,445.1" fill="#a6a6a6" stroke="#000" stroke-width="0.9" stroke-linejoin="round" />
<polyline points="1343.8,440.1 1379.9,460.4 1367.9,474.6" fill="none" stroke="#000" stroke-width="0.8" stroke-linejoin="round" stroke-linecap="round" />
<polyline points="1344.9,445.1 1376.6,463.3" fill="none" stroke="#000" stroke-width="0.7" stroke-linejoin="round" stroke-linecap="round" />
<line x1="1347.1" y1="441.9" x2="1382.1" y2="461.5" stroke="#333" stroke-width="1.6" stroke-dasharray="0.8 0.8"/>
<polygon points="1326.3,507.4 1338.4,494.3 1367.9,482.3 1369,493.2 1332.9,522.7 1326.3,517.3" fill="#666" stroke="#000" stroke-width="1" stroke-linejoin="round" />
<polygon points="1326.3,507.4 1338.4,494.3 1340.5,496.5 1329.6,510.1" fill="#f0f0f0" stroke="#000" stroke-width="0.8" stroke-linejoin="round" />
<ellipse cx="1359.1" cy="493.9" rx="2.6" ry="3.6" fill="#7a7a7a" stroke="#000" stroke-width="0.8" transform="rotate(20 1359.1 493.9)" />
<polygon points="1305.6,469.2 1322,455 1330.7,467 1362.4,485.6 1338.4,494.3 1327.4,489.9 1312.1,485.6" fill="#777" stroke="#000" stroke-width="0.9" stroke-linejoin="round" />
<polygon points="1320.9,475.7 1336.2,469.2 1355.8,480.1 1342.7,487.8 1327.4,485.6" fill="#c8c8c8" stroke="#000" stroke-width="0.8" stroke-linejoin="round" />
<polygon points="1327.4,485.6 1342.7,487.8 1342.3,491 1327.4,488.9" fill="#fff" stroke="#000" stroke-width="0.6" stroke-linejoin="round" />
<polygon points="1284.8,485.6 1304.5,469.2 1311,463.7 1305.6,477.3 1289.2,493.9 1284.8,493.2" fill="#e8e8e8" stroke="#000" stroke-width="1" stroke-linejoin="round" />
<polygon points="1291.4,489.5 1305.6,474.6 1312.1,462.6 1326.3,455.4 1309.9,472.5 1303.4,485.6 1292.5,495.4" fill="#6a6a6a" stroke="#000" stroke-width="0.9" stroke-linejoin="round" />
<polygon points="1298.6,493.2 1305.6,485.6 1327.4,489.5 1337.3,495.4 1326.3,507.4 1323.1,516.2 1305.6,511.8" fill="#c4c4c4" stroke="#000" stroke-width="0.9" stroke-linejoin="round" />
<ellipse cx="1320.4" cy="500.9" rx="3.4" ry="2.4" fill="#aaa" stroke="#000" stroke-width="0.7" />
<ellipse cx="1300.1" cy="498.3" rx="2.6" ry="1.9" fill="#aaa" stroke="#000" stroke-width="0.7" />
<ellipse cx="1312.1" cy="504.8" rx="2.6" ry="1.9" fill="#aaa" stroke="#000" stroke-width="0.7" />
<polygon points="1275,507.4 1292.5,496.9 1297.9,499.1 1280.4,510.1" fill="#d2d2d2" stroke="#000" stroke-width="0.9" stroke-linejoin="round" />
<polygon points="1275,507.4 1280.4,510.1 1280.9,515.1 1275.4,512.2" fill="#8a8a8a" stroke="#000" stroke-width="0.8" stroke-linejoin="round" />
<polygon points="1280.4,510.1 1297.9,499.1 1298.4,504.2 1280.9,515.1" fill="#777" stroke="#000" stroke-width="0.8" stroke-linejoin="round" />
<polygon points="1287.4,513.6 1304.9,503.1 1310.4,505.2 1292.9,516.2" fill="#d2d2d2" stroke="#000" stroke-width="0.9" stroke-linejoin="round" />
<polygon points="1287.4,513.6 1292.9,516.2 1293.3,521.2 1287.9,518.4" fill="#8a8a8a" stroke="#000" stroke-width="0.8" stroke-linejoin="round" />
<polygon points="1292.9,516.2 1310.4,505.2 1310.8,510.3 1293.3,521.2" fill="#777" stroke="#000" stroke-width="0.8" stroke-linejoin="round" />
<polygon points="1300.1,519.5 1317.6,509 1323.1,511.1 1305.6,522.1" fill="#d2d2d2" stroke="#000" stroke-width="0.9" stroke-linejoin="round" />
<polygon points="1300.1,519.5 1305.6,522.1 1306,527.1 1300.5,524.3" fill="#8a8a8a" stroke="#000" stroke-width="0.8" stroke-linejoin="round" />
<polygon points="1305.6,522.1 1323.1,511.1 1323.5,516.2 1306,527.1" fill="#777" stroke="#000" stroke-width="0.8" stroke-linejoin="round" />
<line x1="275" y1="315" x2="355.5" y2="409" stroke="#000" stroke-width="2.6" />
<ellipse cx="381" cy="435.9" rx="37.8" ry="37.8" fill="#fff" stroke="#000" stroke-width="2.6" />
<text x="382.3" y="453" font-size="51" text-anchor="middle" fill="#000">2</text>
<line x1="788" y1="656" x2="853.5" y2="693.5" stroke="#000" stroke-width="2.6" />
<ellipse cx="756" cy="632.3" rx="37.8" ry="37.8" fill="#fff" stroke="#000" stroke-width="2.6" />
<text x="757.8" y="652" font-size="51" text-anchor="middle" fill="#000">1</text>
</svg>
</body></html>
